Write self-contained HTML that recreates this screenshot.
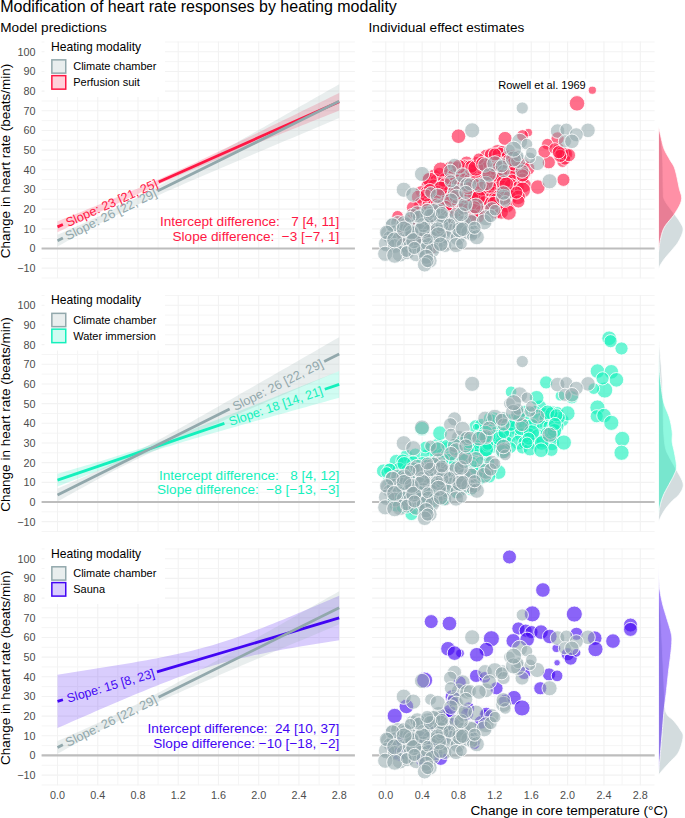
<!DOCTYPE html>
<html><head><meta charset="utf-8"><title>Heart rate by heating modality</title>
<style>html,body{margin:0;padding:0;background:#fff;} svg{display:block;} text{font-family:"Liberation Sans", sans-serif;}</style>
</head><body>
<svg width="685" height="818" viewBox="0 0 685 818" font-family='"Liberation Sans", sans-serif'>
<rect width="685" height="818" fill="#fff"/>
<text x="0.2" y="12.1" font-size="16" fill="#000" text-anchor="start" >Modification of heart rate responses by heating modality</text>
<text x="0.3" y="32" font-size="13.6" fill="#000" text-anchor="start" >Model predictions</text>
<text x="368.6" y="32" font-size="13.55" fill="#000" text-anchor="start" >Individual effect estimates</text>
<line x1="41.6" x2="354.9" y1="278" y2="278" stroke="#f5f5f5" stroke-width="1.0"/>
<line x1="41.6" x2="354.9" y1="268.17" y2="268.17" stroke="#f2f2f2" stroke-width="1.1"/>
<line x1="41.6" x2="354.9" y1="258.33" y2="258.33" stroke="#f5f5f5" stroke-width="1.0"/>
<line x1="41.6" x2="354.9" y1="248.5" y2="248.5" stroke="#f2f2f2" stroke-width="1.1"/>
<line x1="41.6" x2="354.9" y1="238.66" y2="238.66" stroke="#f5f5f5" stroke-width="1.0"/>
<line x1="41.6" x2="354.9" y1="228.83" y2="228.83" stroke="#f2f2f2" stroke-width="1.1"/>
<line x1="41.6" x2="354.9" y1="219" y2="219" stroke="#f5f5f5" stroke-width="1.0"/>
<line x1="41.6" x2="354.9" y1="209.16" y2="209.16" stroke="#f2f2f2" stroke-width="1.1"/>
<line x1="41.6" x2="354.9" y1="199.32" y2="199.32" stroke="#f5f5f5" stroke-width="1.0"/>
<line x1="41.6" x2="354.9" y1="189.49" y2="189.49" stroke="#f2f2f2" stroke-width="1.1"/>
<line x1="41.6" x2="354.9" y1="179.66" y2="179.66" stroke="#f5f5f5" stroke-width="1.0"/>
<line x1="41.6" x2="354.9" y1="169.82" y2="169.82" stroke="#f2f2f2" stroke-width="1.1"/>
<line x1="41.6" x2="354.9" y1="159.99" y2="159.99" stroke="#f5f5f5" stroke-width="1.0"/>
<line x1="41.6" x2="354.9" y1="150.15" y2="150.15" stroke="#f2f2f2" stroke-width="1.1"/>
<line x1="41.6" x2="354.9" y1="140.31" y2="140.31" stroke="#f5f5f5" stroke-width="1.0"/>
<line x1="41.6" x2="354.9" y1="130.48" y2="130.48" stroke="#f2f2f2" stroke-width="1.1"/>
<line x1="41.6" x2="354.9" y1="120.64" y2="120.64" stroke="#f5f5f5" stroke-width="1.0"/>
<line x1="41.6" x2="354.9" y1="110.81" y2="110.81" stroke="#f2f2f2" stroke-width="1.1"/>
<line x1="41.6" x2="354.9" y1="100.97" y2="100.97" stroke="#f5f5f5" stroke-width="1.0"/>
<line x1="41.6" x2="354.9" y1="91.14" y2="91.14" stroke="#f2f2f2" stroke-width="1.1"/>
<line x1="41.6" x2="354.9" y1="81.31" y2="81.31" stroke="#f5f5f5" stroke-width="1.0"/>
<line x1="41.6" x2="354.9" y1="71.47" y2="71.47" stroke="#f2f2f2" stroke-width="1.1"/>
<line x1="41.6" x2="354.9" y1="61.63" y2="61.63" stroke="#f5f5f5" stroke-width="1.0"/>
<line x1="41.6" x2="354.9" y1="51.8" y2="51.8" stroke="#f2f2f2" stroke-width="1.1"/>
<line x1="41.6" x2="354.9" y1="41.97" y2="41.97" stroke="#f5f5f5" stroke-width="1.0"/>
<line x1="57.5" x2="57.5" y1="41.57" y2="278.2" stroke="#f2f2f2" stroke-width="1.1"/>
<line x1="77.62" x2="77.62" y1="41.57" y2="278.2" stroke="#f5f5f5" stroke-width="1.0"/>
<line x1="97.74" x2="97.74" y1="41.57" y2="278.2" stroke="#f2f2f2" stroke-width="1.1"/>
<line x1="117.86" x2="117.86" y1="41.57" y2="278.2" stroke="#f5f5f5" stroke-width="1.0"/>
<line x1="137.98" x2="137.98" y1="41.57" y2="278.2" stroke="#f2f2f2" stroke-width="1.1"/>
<line x1="158.1" x2="158.1" y1="41.57" y2="278.2" stroke="#f5f5f5" stroke-width="1.0"/>
<line x1="178.22" x2="178.22" y1="41.57" y2="278.2" stroke="#f2f2f2" stroke-width="1.1"/>
<line x1="198.34" x2="198.34" y1="41.57" y2="278.2" stroke="#f5f5f5" stroke-width="1.0"/>
<line x1="218.46" x2="218.46" y1="41.57" y2="278.2" stroke="#f2f2f2" stroke-width="1.1"/>
<line x1="238.58" x2="238.58" y1="41.57" y2="278.2" stroke="#f5f5f5" stroke-width="1.0"/>
<line x1="258.7" x2="258.7" y1="41.57" y2="278.2" stroke="#f2f2f2" stroke-width="1.1"/>
<line x1="278.82" x2="278.82" y1="41.57" y2="278.2" stroke="#f5f5f5" stroke-width="1.0"/>
<line x1="298.94" x2="298.94" y1="41.57" y2="278.2" stroke="#f2f2f2" stroke-width="1.1"/>
<line x1="319.06" x2="319.06" y1="41.57" y2="278.2" stroke="#f5f5f5" stroke-width="1.0"/>
<line x1="339.18" x2="339.18" y1="41.57" y2="278.2" stroke="#f2f2f2" stroke-width="1.1"/>
<line x1="372.1" x2="654.6" y1="278" y2="278" stroke="#f5f5f5" stroke-width="1.0"/>
<line x1="372.1" x2="654.6" y1="268.17" y2="268.17" stroke="#f2f2f2" stroke-width="1.1"/>
<line x1="372.1" x2="654.6" y1="258.33" y2="258.33" stroke="#f5f5f5" stroke-width="1.0"/>
<line x1="372.1" x2="654.6" y1="248.5" y2="248.5" stroke="#f2f2f2" stroke-width="1.1"/>
<line x1="372.1" x2="654.6" y1="238.66" y2="238.66" stroke="#f5f5f5" stroke-width="1.0"/>
<line x1="372.1" x2="654.6" y1="228.83" y2="228.83" stroke="#f2f2f2" stroke-width="1.1"/>
<line x1="372.1" x2="654.6" y1="219" y2="219" stroke="#f5f5f5" stroke-width="1.0"/>
<line x1="372.1" x2="654.6" y1="209.16" y2="209.16" stroke="#f2f2f2" stroke-width="1.1"/>
<line x1="372.1" x2="654.6" y1="199.32" y2="199.32" stroke="#f5f5f5" stroke-width="1.0"/>
<line x1="372.1" x2="654.6" y1="189.49" y2="189.49" stroke="#f2f2f2" stroke-width="1.1"/>
<line x1="372.1" x2="654.6" y1="179.66" y2="179.66" stroke="#f5f5f5" stroke-width="1.0"/>
<line x1="372.1" x2="654.6" y1="169.82" y2="169.82" stroke="#f2f2f2" stroke-width="1.1"/>
<line x1="372.1" x2="654.6" y1="159.99" y2="159.99" stroke="#f5f5f5" stroke-width="1.0"/>
<line x1="372.1" x2="654.6" y1="150.15" y2="150.15" stroke="#f2f2f2" stroke-width="1.1"/>
<line x1="372.1" x2="654.6" y1="140.31" y2="140.31" stroke="#f5f5f5" stroke-width="1.0"/>
<line x1="372.1" x2="654.6" y1="130.48" y2="130.48" stroke="#f2f2f2" stroke-width="1.1"/>
<line x1="372.1" x2="654.6" y1="120.64" y2="120.64" stroke="#f5f5f5" stroke-width="1.0"/>
<line x1="372.1" x2="654.6" y1="110.81" y2="110.81" stroke="#f2f2f2" stroke-width="1.1"/>
<line x1="372.1" x2="654.6" y1="100.97" y2="100.97" stroke="#f5f5f5" stroke-width="1.0"/>
<line x1="372.1" x2="654.6" y1="91.14" y2="91.14" stroke="#f2f2f2" stroke-width="1.1"/>
<line x1="372.1" x2="654.6" y1="81.31" y2="81.31" stroke="#f5f5f5" stroke-width="1.0"/>
<line x1="372.1" x2="654.6" y1="71.47" y2="71.47" stroke="#f2f2f2" stroke-width="1.1"/>
<line x1="372.1" x2="654.6" y1="61.63" y2="61.63" stroke="#f5f5f5" stroke-width="1.0"/>
<line x1="372.1" x2="654.6" y1="51.8" y2="51.8" stroke="#f2f2f2" stroke-width="1.1"/>
<line x1="372.1" x2="654.6" y1="41.97" y2="41.97" stroke="#f5f5f5" stroke-width="1.0"/>
<line x1="385.8" x2="385.8" y1="41.57" y2="278.2" stroke="#f2f2f2" stroke-width="1.1"/>
<line x1="403.98" x2="403.98" y1="41.57" y2="278.2" stroke="#f5f5f5" stroke-width="1.0"/>
<line x1="422.16" x2="422.16" y1="41.57" y2="278.2" stroke="#f2f2f2" stroke-width="1.1"/>
<line x1="440.34" x2="440.34" y1="41.57" y2="278.2" stroke="#f5f5f5" stroke-width="1.0"/>
<line x1="458.52" x2="458.52" y1="41.57" y2="278.2" stroke="#f2f2f2" stroke-width="1.1"/>
<line x1="476.7" x2="476.7" y1="41.57" y2="278.2" stroke="#f5f5f5" stroke-width="1.0"/>
<line x1="494.88" x2="494.88" y1="41.57" y2="278.2" stroke="#f2f2f2" stroke-width="1.1"/>
<line x1="513.06" x2="513.06" y1="41.57" y2="278.2" stroke="#f5f5f5" stroke-width="1.0"/>
<line x1="531.24" x2="531.24" y1="41.57" y2="278.2" stroke="#f2f2f2" stroke-width="1.1"/>
<line x1="549.42" x2="549.42" y1="41.57" y2="278.2" stroke="#f5f5f5" stroke-width="1.0"/>
<line x1="567.6" x2="567.6" y1="41.57" y2="278.2" stroke="#f2f2f2" stroke-width="1.1"/>
<line x1="585.78" x2="585.78" y1="41.57" y2="278.2" stroke="#f5f5f5" stroke-width="1.0"/>
<line x1="603.96" x2="603.96" y1="41.57" y2="278.2" stroke="#f2f2f2" stroke-width="1.1"/>
<line x1="622.14" x2="622.14" y1="41.57" y2="278.2" stroke="#f5f5f5" stroke-width="1.0"/>
<line x1="640.32" x2="640.32" y1="41.57" y2="278.2" stroke="#f2f2f2" stroke-width="1.1"/>
<line x1="41.6" x2="354.9" y1="248.5" y2="248.5" stroke="#bdbdbd" stroke-width="2.2"/>
<line x1="372.1" x2="654.6" y1="248.5" y2="248.5" stroke="#bdbdbd" stroke-width="2.2"/>
<text x="35.6" y="272.12" font-size="10.8" fill="#4d4d4d" text-anchor="end">−10</text>
<text x="35.6" y="252.45" font-size="10.8" fill="#4d4d4d" text-anchor="end">0</text>
<text x="35.6" y="232.78" font-size="10.8" fill="#4d4d4d" text-anchor="end">10</text>
<text x="35.6" y="213.11" font-size="10.8" fill="#4d4d4d" text-anchor="end">20</text>
<text x="35.6" y="193.44" font-size="10.8" fill="#4d4d4d" text-anchor="end">30</text>
<text x="35.6" y="173.77" font-size="10.8" fill="#4d4d4d" text-anchor="end">40</text>
<text x="35.6" y="154.1" font-size="10.8" fill="#4d4d4d" text-anchor="end">50</text>
<text x="35.6" y="134.43" font-size="10.8" fill="#4d4d4d" text-anchor="end">60</text>
<text x="35.6" y="114.76" font-size="10.8" fill="#4d4d4d" text-anchor="end">70</text>
<text x="35.6" y="95.09" font-size="10.8" fill="#4d4d4d" text-anchor="end">80</text>
<text x="35.6" y="75.42" font-size="10.8" fill="#4d4d4d" text-anchor="end">90</text>
<text x="35.6" y="55.75" font-size="10.8" fill="#4d4d4d" text-anchor="end">100</text>
<text transform="translate(10.3,160.99) rotate(-90)" font-size="13.5" text-anchor="middle" fill="#000">Change in heart rate (beats/min)</text>
<path d="M57.5,221.36 L62.19,219.47 L66.89,217.57 L71.58,215.68 L76.28,213.78 L80.97,211.88 L85.67,209.98 L90.36,208.07 L95.06,206.16 L99.75,204.24 L104.45,202.32 L109.14,200.39 L113.84,198.45 L118.53,196.51 L123.23,194.56 L127.92,192.59 L132.61,190.62 L137.31,188.63 L142,186.62 L146.7,184.6 L151.39,182.57 L156.09,180.51 L160.78,178.44 L165.48,176.35 L170.17,174.24 L174.87,172.11 L179.56,169.96 L184.26,167.79 L188.95,165.62 L193.65,163.42 L198.34,161.22 L203.03,159 L207.73,156.78 L212.42,154.55 L217.12,152.31 L221.81,150.06 L226.51,147.81 L231.2,145.55 L235.9,143.29 L240.59,141.02 L245.29,138.75 L249.98,136.48 L254.68,134.21 L259.37,131.93 L264.07,129.65 L268.76,127.37 L273.45,125.09 L278.15,122.8 L282.84,120.52 L287.54,118.23 L292.23,115.94 L296.93,113.65 L301.62,111.36 L306.32,109.07 L311.01,106.78 L315.71,104.48 L320.4,102.19 L325.1,99.9 L329.79,97.6 L334.49,95.3 L339.18,93.01 L339.18,110.51 L334.49,112.39 L329.79,114.26 L325.1,116.14 L320.4,118.01 L315.71,119.89 L311.01,121.77 L306.32,123.65 L301.62,125.52 L296.93,127.4 L292.23,129.28 L287.54,131.17 L282.84,133.05 L278.15,134.93 L273.45,136.82 L268.76,138.7 L264.07,140.59 L259.37,142.48 L254.68,144.38 L249.98,146.27 L245.29,148.17 L240.59,150.07 L235.9,151.98 L231.2,153.88 L226.51,155.8 L221.81,157.71 L217.12,159.64 L212.42,161.57 L207.73,163.5 L203.03,165.45 L198.34,167.41 L193.65,169.37 L188.95,171.35 L184.26,173.34 L179.56,175.35 L174.87,177.37 L170.17,179.41 L165.48,181.47 L160.78,183.55 L156.09,185.64 L151.39,187.76 L146.7,189.89 L142,192.04 L137.31,194.21 L132.61,196.39 L127.92,198.58 L123.23,200.79 L118.53,203.01 L113.84,205.23 L109.14,207.47 L104.45,209.71 L99.75,211.96 L95.06,214.21 L90.36,216.47 L85.67,218.73 L80.97,221 L76.28,223.27 L71.58,225.54 L66.89,227.81 L62.19,230.09 L57.5,232.37Z" fill="rgba(255,23,68,0.2)"/>
<path d="M57.5,234.73 L62.19,232.69 L66.89,230.64 L71.58,228.57 L76.28,226.5 L80.97,224.41 L85.67,222.31 L90.36,220.19 L95.06,218.05 L99.75,215.88 L104.45,213.68 L109.14,211.46 L113.84,209.2 L118.53,206.91 L123.23,204.58 L127.92,202.21 L132.61,199.81 L137.31,197.38 L142,194.92 L146.7,192.43 L151.39,189.92 L156.09,187.39 L160.78,184.84 L165.48,182.28 L170.17,179.7 L174.87,177.11 L179.56,174.51 L184.26,171.9 L188.95,169.29 L193.65,166.66 L198.34,164.04 L203.03,161.41 L207.73,158.77 L212.42,156.13 L217.12,153.49 L221.81,150.84 L226.51,148.19 L231.2,145.54 L235.9,142.89 L240.59,140.23 L245.29,137.58 L249.98,134.92 L254.68,132.26 L259.37,129.6 L264.07,126.94 L268.76,124.28 L273.45,121.61 L278.15,118.95 L282.84,116.28 L287.54,113.62 L292.23,110.95 L296.93,108.28 L301.62,105.62 L306.32,102.95 L311.01,100.28 L315.71,97.61 L320.4,94.94 L325.1,92.27 L329.79,89.6 L334.49,86.93 L339.18,84.26 L339.18,118.09 L334.49,120.07 L329.79,122.04 L325.1,124.02 L320.4,126 L315.71,127.98 L311.01,129.96 L306.32,131.94 L301.62,133.92 L296.93,135.9 L292.23,137.88 L287.54,139.86 L282.84,141.84 L278.15,143.83 L273.45,145.81 L268.76,147.8 L264.07,149.78 L259.37,151.77 L254.68,153.76 L249.98,155.75 L245.29,157.74 L240.59,159.73 L235.9,161.72 L231.2,163.72 L226.51,165.72 L221.81,167.72 L217.12,169.72 L212.42,171.73 L207.73,173.74 L203.03,175.75 L198.34,177.77 L193.65,179.79 L188.95,181.82 L184.26,183.85 L179.56,185.89 L174.87,187.94 L170.17,190 L165.48,192.07 L160.78,194.15 L156.09,196.25 L151.39,198.37 L146.7,200.5 L142,202.67 L137.31,204.85 L132.61,207.07 L127.92,209.32 L123.23,211.6 L118.53,213.92 L113.84,216.28 L109.14,218.67 L104.45,221.09 L99.75,223.55 L95.06,226.03 L90.36,228.53 L85.67,231.06 L80.97,233.61 L76.28,236.17 L71.58,238.74 L66.89,241.33 L62.19,243.93 L57.5,246.53Z" fill="rgba(146,168,172,0.2)"/>
<line x1="57.5" y1="226.86" x2="62.9" y2="224.46" stroke="#FF1744" stroke-width="2.8" stroke-linecap="butt"/>
<line x1="158.7" y1="181.92" x2="339.18" y2="101.76" stroke="#FF1744" stroke-width="2.8" stroke-linecap="butt"/>
<text transform="translate(111.6,202.84) rotate(-23.95)" font-size="12.5" fill="#FF1744" text-anchor="middle" dy="4.4" textLength="99.02" lengthAdjust="spacingAndGlyphs">Slope: 23 [21, 25]</text>
<line x1="57.5" y1="240.63" x2="62.9" y2="237.96" stroke="#92A8AC" stroke-width="2.8" stroke-linecap="butt"/>
<line x1="157.5" y1="191.12" x2="339.18" y2="101.17" stroke="#92A8AC" stroke-width="2.8" stroke-linecap="butt"/>
<text transform="translate(110.8,214.24) rotate(-26.34)" font-size="12.5" fill="#92A8AC" text-anchor="middle" dy="4.4" textLength="100.29" lengthAdjust="spacingAndGlyphs">Slope: 26 [22, 29]</text>
<text x="339.3" y="226.3" font-size="13.6" fill="#FF1744" text-anchor="end" xml:space="preserve">Intercept difference:   7 [4, 11]</text>
<text x="339.3" y="240.9" font-size="13.6" fill="#FF1744" text-anchor="end" xml:space="preserve">Slope difference:  −3 [−7, 1]</text>
<rect x="44.5" y="38" width="120.5" height="59" fill="#fff"/>
<text x="51" y="50.8" font-size="12.1" fill="#000" text-anchor="start" >Heating modality</text>
<rect x="51.85" y="59.85" width="13.9" height="13.3" fill="rgba(146,168,172,0.2)" stroke="#92A8AC" stroke-width="1.5"/>
<rect x="51.85" y="75.65" width="13.9" height="13.5" fill="rgba(255,23,68,0.2)" stroke="#FF1744" stroke-width="1.5"/>
<text x="73.2" y="70.4" font-size="11" fill="#000" text-anchor="start" >Climate chamber</text>
<text x="73.2" y="86.2" font-size="11" fill="#000" text-anchor="start" >Perfusion suit</text>
<line x1="41.6" x2="354.9" y1="531.5" y2="531.5" stroke="#f5f5f5" stroke-width="1.0"/>
<line x1="41.6" x2="354.9" y1="521.67" y2="521.67" stroke="#f2f2f2" stroke-width="1.1"/>
<line x1="41.6" x2="354.9" y1="511.83" y2="511.83" stroke="#f5f5f5" stroke-width="1.0"/>
<line x1="41.6" x2="354.9" y1="502" y2="502" stroke="#f2f2f2" stroke-width="1.1"/>
<line x1="41.6" x2="354.9" y1="492.17" y2="492.17" stroke="#f5f5f5" stroke-width="1.0"/>
<line x1="41.6" x2="354.9" y1="482.33" y2="482.33" stroke="#f2f2f2" stroke-width="1.1"/>
<line x1="41.6" x2="354.9" y1="472.5" y2="472.5" stroke="#f5f5f5" stroke-width="1.0"/>
<line x1="41.6" x2="354.9" y1="462.66" y2="462.66" stroke="#f2f2f2" stroke-width="1.1"/>
<line x1="41.6" x2="354.9" y1="452.82" y2="452.82" stroke="#f5f5f5" stroke-width="1.0"/>
<line x1="41.6" x2="354.9" y1="442.99" y2="442.99" stroke="#f2f2f2" stroke-width="1.1"/>
<line x1="41.6" x2="354.9" y1="433.15" y2="433.15" stroke="#f5f5f5" stroke-width="1.0"/>
<line x1="41.6" x2="354.9" y1="423.32" y2="423.32" stroke="#f2f2f2" stroke-width="1.1"/>
<line x1="41.6" x2="354.9" y1="413.49" y2="413.49" stroke="#f5f5f5" stroke-width="1.0"/>
<line x1="41.6" x2="354.9" y1="403.65" y2="403.65" stroke="#f2f2f2" stroke-width="1.1"/>
<line x1="41.6" x2="354.9" y1="393.81" y2="393.81" stroke="#f5f5f5" stroke-width="1.0"/>
<line x1="41.6" x2="354.9" y1="383.98" y2="383.98" stroke="#f2f2f2" stroke-width="1.1"/>
<line x1="41.6" x2="354.9" y1="374.14" y2="374.14" stroke="#f5f5f5" stroke-width="1.0"/>
<line x1="41.6" x2="354.9" y1="364.31" y2="364.31" stroke="#f2f2f2" stroke-width="1.1"/>
<line x1="41.6" x2="354.9" y1="354.48" y2="354.48" stroke="#f5f5f5" stroke-width="1.0"/>
<line x1="41.6" x2="354.9" y1="344.64" y2="344.64" stroke="#f2f2f2" stroke-width="1.1"/>
<line x1="41.6" x2="354.9" y1="334.81" y2="334.81" stroke="#f5f5f5" stroke-width="1.0"/>
<line x1="41.6" x2="354.9" y1="324.97" y2="324.97" stroke="#f2f2f2" stroke-width="1.1"/>
<line x1="41.6" x2="354.9" y1="315.13" y2="315.13" stroke="#f5f5f5" stroke-width="1.0"/>
<line x1="41.6" x2="354.9" y1="305.3" y2="305.3" stroke="#f2f2f2" stroke-width="1.1"/>
<line x1="41.6" x2="354.9" y1="295.47" y2="295.47" stroke="#f5f5f5" stroke-width="1.0"/>
<line x1="57.5" x2="57.5" y1="295.07" y2="531.7" stroke="#f2f2f2" stroke-width="1.1"/>
<line x1="77.62" x2="77.62" y1="295.07" y2="531.7" stroke="#f5f5f5" stroke-width="1.0"/>
<line x1="97.74" x2="97.74" y1="295.07" y2="531.7" stroke="#f2f2f2" stroke-width="1.1"/>
<line x1="117.86" x2="117.86" y1="295.07" y2="531.7" stroke="#f5f5f5" stroke-width="1.0"/>
<line x1="137.98" x2="137.98" y1="295.07" y2="531.7" stroke="#f2f2f2" stroke-width="1.1"/>
<line x1="158.1" x2="158.1" y1="295.07" y2="531.7" stroke="#f5f5f5" stroke-width="1.0"/>
<line x1="178.22" x2="178.22" y1="295.07" y2="531.7" stroke="#f2f2f2" stroke-width="1.1"/>
<line x1="198.34" x2="198.34" y1="295.07" y2="531.7" stroke="#f5f5f5" stroke-width="1.0"/>
<line x1="218.46" x2="218.46" y1="295.07" y2="531.7" stroke="#f2f2f2" stroke-width="1.1"/>
<line x1="238.58" x2="238.58" y1="295.07" y2="531.7" stroke="#f5f5f5" stroke-width="1.0"/>
<line x1="258.7" x2="258.7" y1="295.07" y2="531.7" stroke="#f2f2f2" stroke-width="1.1"/>
<line x1="278.82" x2="278.82" y1="295.07" y2="531.7" stroke="#f5f5f5" stroke-width="1.0"/>
<line x1="298.94" x2="298.94" y1="295.07" y2="531.7" stroke="#f2f2f2" stroke-width="1.1"/>
<line x1="319.06" x2="319.06" y1="295.07" y2="531.7" stroke="#f5f5f5" stroke-width="1.0"/>
<line x1="339.18" x2="339.18" y1="295.07" y2="531.7" stroke="#f2f2f2" stroke-width="1.1"/>
<line x1="372.1" x2="654.6" y1="531.5" y2="531.5" stroke="#f5f5f5" stroke-width="1.0"/>
<line x1="372.1" x2="654.6" y1="521.67" y2="521.67" stroke="#f2f2f2" stroke-width="1.1"/>
<line x1="372.1" x2="654.6" y1="511.83" y2="511.83" stroke="#f5f5f5" stroke-width="1.0"/>
<line x1="372.1" x2="654.6" y1="502" y2="502" stroke="#f2f2f2" stroke-width="1.1"/>
<line x1="372.1" x2="654.6" y1="492.17" y2="492.17" stroke="#f5f5f5" stroke-width="1.0"/>
<line x1="372.1" x2="654.6" y1="482.33" y2="482.33" stroke="#f2f2f2" stroke-width="1.1"/>
<line x1="372.1" x2="654.6" y1="472.5" y2="472.5" stroke="#f5f5f5" stroke-width="1.0"/>
<line x1="372.1" x2="654.6" y1="462.66" y2="462.66" stroke="#f2f2f2" stroke-width="1.1"/>
<line x1="372.1" x2="654.6" y1="452.82" y2="452.82" stroke="#f5f5f5" stroke-width="1.0"/>
<line x1="372.1" x2="654.6" y1="442.99" y2="442.99" stroke="#f2f2f2" stroke-width="1.1"/>
<line x1="372.1" x2="654.6" y1="433.15" y2="433.15" stroke="#f5f5f5" stroke-width="1.0"/>
<line x1="372.1" x2="654.6" y1="423.32" y2="423.32" stroke="#f2f2f2" stroke-width="1.1"/>
<line x1="372.1" x2="654.6" y1="413.49" y2="413.49" stroke="#f5f5f5" stroke-width="1.0"/>
<line x1="372.1" x2="654.6" y1="403.65" y2="403.65" stroke="#f2f2f2" stroke-width="1.1"/>
<line x1="372.1" x2="654.6" y1="393.81" y2="393.81" stroke="#f5f5f5" stroke-width="1.0"/>
<line x1="372.1" x2="654.6" y1="383.98" y2="383.98" stroke="#f2f2f2" stroke-width="1.1"/>
<line x1="372.1" x2="654.6" y1="374.14" y2="374.14" stroke="#f5f5f5" stroke-width="1.0"/>
<line x1="372.1" x2="654.6" y1="364.31" y2="364.31" stroke="#f2f2f2" stroke-width="1.1"/>
<line x1="372.1" x2="654.6" y1="354.48" y2="354.48" stroke="#f5f5f5" stroke-width="1.0"/>
<line x1="372.1" x2="654.6" y1="344.64" y2="344.64" stroke="#f2f2f2" stroke-width="1.1"/>
<line x1="372.1" x2="654.6" y1="334.81" y2="334.81" stroke="#f5f5f5" stroke-width="1.0"/>
<line x1="372.1" x2="654.6" y1="324.97" y2="324.97" stroke="#f2f2f2" stroke-width="1.1"/>
<line x1="372.1" x2="654.6" y1="315.13" y2="315.13" stroke="#f5f5f5" stroke-width="1.0"/>
<line x1="372.1" x2="654.6" y1="305.3" y2="305.3" stroke="#f2f2f2" stroke-width="1.1"/>
<line x1="372.1" x2="654.6" y1="295.47" y2="295.47" stroke="#f5f5f5" stroke-width="1.0"/>
<line x1="385.8" x2="385.8" y1="295.07" y2="531.7" stroke="#f2f2f2" stroke-width="1.1"/>
<line x1="403.98" x2="403.98" y1="295.07" y2="531.7" stroke="#f5f5f5" stroke-width="1.0"/>
<line x1="422.16" x2="422.16" y1="295.07" y2="531.7" stroke="#f2f2f2" stroke-width="1.1"/>
<line x1="440.34" x2="440.34" y1="295.07" y2="531.7" stroke="#f5f5f5" stroke-width="1.0"/>
<line x1="458.52" x2="458.52" y1="295.07" y2="531.7" stroke="#f2f2f2" stroke-width="1.1"/>
<line x1="476.7" x2="476.7" y1="295.07" y2="531.7" stroke="#f5f5f5" stroke-width="1.0"/>
<line x1="494.88" x2="494.88" y1="295.07" y2="531.7" stroke="#f2f2f2" stroke-width="1.1"/>
<line x1="513.06" x2="513.06" y1="295.07" y2="531.7" stroke="#f5f5f5" stroke-width="1.0"/>
<line x1="531.24" x2="531.24" y1="295.07" y2="531.7" stroke="#f2f2f2" stroke-width="1.1"/>
<line x1="549.42" x2="549.42" y1="295.07" y2="531.7" stroke="#f5f5f5" stroke-width="1.0"/>
<line x1="567.6" x2="567.6" y1="295.07" y2="531.7" stroke="#f2f2f2" stroke-width="1.1"/>
<line x1="585.78" x2="585.78" y1="295.07" y2="531.7" stroke="#f5f5f5" stroke-width="1.0"/>
<line x1="603.96" x2="603.96" y1="295.07" y2="531.7" stroke="#f2f2f2" stroke-width="1.1"/>
<line x1="622.14" x2="622.14" y1="295.07" y2="531.7" stroke="#f5f5f5" stroke-width="1.0"/>
<line x1="640.32" x2="640.32" y1="295.07" y2="531.7" stroke="#f2f2f2" stroke-width="1.1"/>
<line x1="41.6" x2="354.9" y1="502" y2="502" stroke="#bdbdbd" stroke-width="2.2"/>
<line x1="372.1" x2="654.6" y1="502" y2="502" stroke="#bdbdbd" stroke-width="2.2"/>
<text x="35.6" y="525.62" font-size="10.8" fill="#4d4d4d" text-anchor="end">−10</text>
<text x="35.6" y="505.95" font-size="10.8" fill="#4d4d4d" text-anchor="end">0</text>
<text x="35.6" y="486.28" font-size="10.8" fill="#4d4d4d" text-anchor="end">10</text>
<text x="35.6" y="466.61" font-size="10.8" fill="#4d4d4d" text-anchor="end">20</text>
<text x="35.6" y="446.94" font-size="10.8" fill="#4d4d4d" text-anchor="end">30</text>
<text x="35.6" y="427.27" font-size="10.8" fill="#4d4d4d" text-anchor="end">40</text>
<text x="35.6" y="407.6" font-size="10.8" fill="#4d4d4d" text-anchor="end">50</text>
<text x="35.6" y="387.93" font-size="10.8" fill="#4d4d4d" text-anchor="end">60</text>
<text x="35.6" y="368.26" font-size="10.8" fill="#4d4d4d" text-anchor="end">70</text>
<text x="35.6" y="348.59" font-size="10.8" fill="#4d4d4d" text-anchor="end">80</text>
<text x="35.6" y="328.92" font-size="10.8" fill="#4d4d4d" text-anchor="end">90</text>
<text x="35.6" y="309.25" font-size="10.8" fill="#4d4d4d" text-anchor="end">100</text>
<text transform="translate(10.3,414.49) rotate(-90)" font-size="13.5" text-anchor="middle" fill="#000">Change in heart rate (beats/min)</text>
<path d="M57.5,473.77 L62.19,472.43 L66.89,471.08 L71.58,469.72 L76.28,468.36 L80.97,466.99 L85.67,465.61 L90.36,464.22 L95.06,462.82 L99.75,461.41 L104.45,459.98 L109.14,458.54 L113.84,457.09 L118.53,455.61 L123.23,454.11 L127.92,452.59 L132.61,451.05 L137.31,449.48 L142,447.88 L146.7,446.26 L151.39,444.61 L156.09,442.94 L160.78,441.25 L165.48,439.53 L170.17,437.8 L174.87,436.04 L179.56,434.28 L184.26,432.49 L188.95,430.7 L193.65,428.9 L198.34,427.08 L203.03,425.26 L207.73,423.43 L212.42,421.59 L217.12,419.75 L221.81,417.91 L226.51,416.05 L231.2,414.2 L235.9,412.34 L240.59,410.48 L245.29,408.61 L249.98,406.75 L254.68,404.88 L259.37,403.01 L264.07,401.13 L268.76,399.26 L273.45,397.38 L278.15,395.5 L282.84,393.62 L287.54,391.74 L292.23,389.86 L296.93,387.98 L301.62,386.09 L306.32,384.21 L311.01,382.32 L315.71,380.44 L320.4,378.55 L325.1,376.66 L329.79,374.78 L334.49,372.89 L339.18,371 L339.18,397.75 L334.49,399.05 L329.79,400.36 L325.1,401.66 L320.4,402.97 L315.71,404.27 L311.01,405.58 L306.32,406.89 L301.62,408.2 L296.93,409.51 L292.23,410.82 L287.54,412.13 L282.84,413.44 L278.15,414.75 L273.45,416.07 L268.76,417.39 L264.07,418.7 L259.37,420.02 L254.68,421.35 L249.98,422.67 L245.29,423.99 L240.59,425.32 L235.9,426.65 L231.2,427.99 L226.51,429.33 L221.81,430.67 L217.12,432.01 L212.42,433.37 L207.73,434.72 L203.03,436.09 L198.34,437.46 L193.65,438.84 L188.95,440.23 L184.26,441.62 L179.56,443.04 L174.87,444.46 L170.17,445.9 L165.48,447.36 L160.78,448.84 L156.09,450.34 L151.39,451.86 L146.7,453.4 L142,454.98 L137.31,456.57 L132.61,458.2 L127.92,459.84 L123.23,461.52 L118.53,463.21 L113.84,464.93 L109.14,466.66 L104.45,468.42 L99.75,470.19 L95.06,471.97 L90.36,473.76 L85.67,475.57 L80.97,477.38 L76.28,479.2 L71.58,481.03 L66.89,482.87 L62.19,484.71 L57.5,486.56Z" fill="rgba(20,240,188,0.2)"/>
<path d="M57.5,488.62 L62.19,486.57 L66.89,484.5 L71.58,482.42 L76.28,480.34 L80.97,478.24 L85.67,476.13 L90.36,474 L95.06,471.85 L99.75,469.68 L104.45,467.49 L109.14,465.27 L113.84,463.02 L118.53,460.74 L123.23,458.43 L127.92,456.08 L132.61,453.7 L137.31,451.28 L142,448.83 L146.7,446.35 L151.39,443.84 L156.09,441.31 L160.78,438.76 L165.48,436.19 L170.17,433.6 L174.87,431 L179.56,428.39 L184.26,425.76 L188.95,423.13 L193.65,420.49 L198.34,417.84 L203.03,415.19 L207.73,412.53 L212.42,409.86 L217.12,407.19 L221.81,404.52 L226.51,401.85 L231.2,399.17 L235.9,396.49 L240.59,393.8 L245.29,391.12 L249.98,388.43 L254.68,385.74 L259.37,383.05 L264.07,380.36 L268.76,377.67 L273.45,374.97 L278.15,372.28 L282.84,369.58 L287.54,366.88 L292.23,364.18 L296.93,361.48 L301.62,358.78 L306.32,356.08 L311.01,353.38 L315.71,350.68 L320.4,347.98 L325.1,345.28 L329.79,342.57 L334.49,339.87 L339.18,337.17 L339.18,371 L334.49,372.99 L329.79,374.99 L325.1,376.99 L320.4,378.99 L315.71,380.99 L311.01,382.99 L306.32,384.99 L301.62,386.99 L296.93,388.99 L292.23,390.99 L287.54,392.99 L282.84,395 L278.15,397 L273.45,399.01 L268.76,401.01 L264.07,403.02 L259.37,405.03 L254.68,407.04 L249.98,409.05 L245.29,411.07 L240.59,413.08 L235.9,415.1 L231.2,417.12 L226.51,419.14 L221.81,421.17 L217.12,423.2 L212.42,425.23 L207.73,427.27 L203.03,429.31 L198.34,431.36 L193.65,433.41 L188.95,435.47 L184.26,437.54 L179.56,439.61 L174.87,441.7 L170.17,443.8 L165.48,445.91 L160.78,448.04 L156.09,450.19 L151.39,452.36 L146.7,454.56 L142,456.78 L137.31,459.03 L132.61,461.32 L127.92,463.63 L123.23,465.99 L118.53,468.37 L113.84,470.8 L109.14,473.25 L104.45,475.73 L99.75,478.24 L95.06,480.77 L90.36,483.33 L85.67,485.9 L80.97,488.49 L76.28,491.09 L71.58,493.7 L66.89,496.33 L62.19,498.96 L57.5,501.61Z" fill="rgba(146,168,172,0.2)"/>
<line x1="57.5" y1="480.17" x2="224.4" y2="423.41" stroke="#14F0BC" stroke-width="2.8" stroke-linecap="butt"/>
<line x1="324.8" y1="389.26" x2="339.18" y2="384.37" stroke="#14F0BC" stroke-width="2.8" stroke-linecap="butt"/>
<text transform="translate(275.6,406) rotate(-18.78)" font-size="12.5" fill="#14F0BC" text-anchor="middle" dy="4.4" textLength="98.37" lengthAdjust="spacingAndGlyphs">Slope: 18 [14, 21]</text>
<line x1="57.5" y1="495.12" x2="229.6" y2="408.95" stroke="#92A8AC" stroke-width="2.8" stroke-linecap="butt"/>
<line x1="324.2" y1="361.58" x2="339.18" y2="354.08" stroke="#92A8AC" stroke-width="2.8" stroke-linecap="butt"/>
<text transform="translate(277.65,384.89) rotate(-26.6)" font-size="12.5" fill="#92A8AC" text-anchor="middle" dy="4.4" textLength="99.5" lengthAdjust="spacingAndGlyphs">Slope: 26 [22, 29]</text>
<text x="339.3" y="479.8" font-size="13.6" fill="#14F0BC" text-anchor="end" xml:space="preserve">Intercept difference:   8 [4, 12]</text>
<text x="339.3" y="494.4" font-size="13.6" fill="#14F0BC" text-anchor="end" xml:space="preserve">Slope difference:  −8 [−13, −3]</text>
<rect x="44.5" y="291.5" width="120.5" height="59" fill="#fff"/>
<text x="51" y="304.3" font-size="12.1" fill="#000" text-anchor="start" >Heating modality</text>
<rect x="51.85" y="313.35" width="13.9" height="13.3" fill="rgba(146,168,172,0.2)" stroke="#92A8AC" stroke-width="1.5"/>
<rect x="51.85" y="329.15" width="13.9" height="13.5" fill="rgba(20,240,188,0.2)" stroke="#14F0BC" stroke-width="1.5"/>
<text x="73.2" y="323.9" font-size="11" fill="#000" text-anchor="start" >Climate chamber</text>
<text x="73.2" y="339.7" font-size="11" fill="#000" text-anchor="start" >Water immersion</text>
<line x1="41.6" x2="354.9" y1="784.96" y2="784.96" stroke="#f5f5f5" stroke-width="1.0"/>
<line x1="41.6" x2="354.9" y1="775.12" y2="775.12" stroke="#f2f2f2" stroke-width="1.1"/>
<line x1="41.6" x2="354.9" y1="765.29" y2="765.29" stroke="#f5f5f5" stroke-width="1.0"/>
<line x1="41.6" x2="354.9" y1="755.45" y2="755.45" stroke="#f2f2f2" stroke-width="1.1"/>
<line x1="41.6" x2="354.9" y1="745.62" y2="745.62" stroke="#f5f5f5" stroke-width="1.0"/>
<line x1="41.6" x2="354.9" y1="735.78" y2="735.78" stroke="#f2f2f2" stroke-width="1.1"/>
<line x1="41.6" x2="354.9" y1="725.95" y2="725.95" stroke="#f5f5f5" stroke-width="1.0"/>
<line x1="41.6" x2="354.9" y1="716.11" y2="716.11" stroke="#f2f2f2" stroke-width="1.1"/>
<line x1="41.6" x2="354.9" y1="706.28" y2="706.28" stroke="#f5f5f5" stroke-width="1.0"/>
<line x1="41.6" x2="354.9" y1="696.44" y2="696.44" stroke="#f2f2f2" stroke-width="1.1"/>
<line x1="41.6" x2="354.9" y1="686.61" y2="686.61" stroke="#f5f5f5" stroke-width="1.0"/>
<line x1="41.6" x2="354.9" y1="676.77" y2="676.77" stroke="#f2f2f2" stroke-width="1.1"/>
<line x1="41.6" x2="354.9" y1="666.94" y2="666.94" stroke="#f5f5f5" stroke-width="1.0"/>
<line x1="41.6" x2="354.9" y1="657.1" y2="657.1" stroke="#f2f2f2" stroke-width="1.1"/>
<line x1="41.6" x2="354.9" y1="647.27" y2="647.27" stroke="#f5f5f5" stroke-width="1.0"/>
<line x1="41.6" x2="354.9" y1="637.43" y2="637.43" stroke="#f2f2f2" stroke-width="1.1"/>
<line x1="41.6" x2="354.9" y1="627.6" y2="627.6" stroke="#f5f5f5" stroke-width="1.0"/>
<line x1="41.6" x2="354.9" y1="617.76" y2="617.76" stroke="#f2f2f2" stroke-width="1.1"/>
<line x1="41.6" x2="354.9" y1="607.93" y2="607.93" stroke="#f5f5f5" stroke-width="1.0"/>
<line x1="41.6" x2="354.9" y1="598.09" y2="598.09" stroke="#f2f2f2" stroke-width="1.1"/>
<line x1="41.6" x2="354.9" y1="588.26" y2="588.26" stroke="#f5f5f5" stroke-width="1.0"/>
<line x1="41.6" x2="354.9" y1="578.42" y2="578.42" stroke="#f2f2f2" stroke-width="1.1"/>
<line x1="41.6" x2="354.9" y1="568.59" y2="568.59" stroke="#f5f5f5" stroke-width="1.0"/>
<line x1="41.6" x2="354.9" y1="558.75" y2="558.75" stroke="#f2f2f2" stroke-width="1.1"/>
<line x1="41.6" x2="354.9" y1="548.92" y2="548.92" stroke="#f5f5f5" stroke-width="1.0"/>
<line x1="57.5" x2="57.5" y1="548.52" y2="785.15" stroke="#f2f2f2" stroke-width="1.1"/>
<line x1="77.62" x2="77.62" y1="548.52" y2="785.15" stroke="#f5f5f5" stroke-width="1.0"/>
<line x1="97.74" x2="97.74" y1="548.52" y2="785.15" stroke="#f2f2f2" stroke-width="1.1"/>
<line x1="117.86" x2="117.86" y1="548.52" y2="785.15" stroke="#f5f5f5" stroke-width="1.0"/>
<line x1="137.98" x2="137.98" y1="548.52" y2="785.15" stroke="#f2f2f2" stroke-width="1.1"/>
<line x1="158.1" x2="158.1" y1="548.52" y2="785.15" stroke="#f5f5f5" stroke-width="1.0"/>
<line x1="178.22" x2="178.22" y1="548.52" y2="785.15" stroke="#f2f2f2" stroke-width="1.1"/>
<line x1="198.34" x2="198.34" y1="548.52" y2="785.15" stroke="#f5f5f5" stroke-width="1.0"/>
<line x1="218.46" x2="218.46" y1="548.52" y2="785.15" stroke="#f2f2f2" stroke-width="1.1"/>
<line x1="238.58" x2="238.58" y1="548.52" y2="785.15" stroke="#f5f5f5" stroke-width="1.0"/>
<line x1="258.7" x2="258.7" y1="548.52" y2="785.15" stroke="#f2f2f2" stroke-width="1.1"/>
<line x1="278.82" x2="278.82" y1="548.52" y2="785.15" stroke="#f5f5f5" stroke-width="1.0"/>
<line x1="298.94" x2="298.94" y1="548.52" y2="785.15" stroke="#f2f2f2" stroke-width="1.1"/>
<line x1="319.06" x2="319.06" y1="548.52" y2="785.15" stroke="#f5f5f5" stroke-width="1.0"/>
<line x1="339.18" x2="339.18" y1="548.52" y2="785.15" stroke="#f2f2f2" stroke-width="1.1"/>
<line x1="372.1" x2="654.6" y1="784.96" y2="784.96" stroke="#f5f5f5" stroke-width="1.0"/>
<line x1="372.1" x2="654.6" y1="775.12" y2="775.12" stroke="#f2f2f2" stroke-width="1.1"/>
<line x1="372.1" x2="654.6" y1="765.29" y2="765.29" stroke="#f5f5f5" stroke-width="1.0"/>
<line x1="372.1" x2="654.6" y1="755.45" y2="755.45" stroke="#f2f2f2" stroke-width="1.1"/>
<line x1="372.1" x2="654.6" y1="745.62" y2="745.62" stroke="#f5f5f5" stroke-width="1.0"/>
<line x1="372.1" x2="654.6" y1="735.78" y2="735.78" stroke="#f2f2f2" stroke-width="1.1"/>
<line x1="372.1" x2="654.6" y1="725.95" y2="725.95" stroke="#f5f5f5" stroke-width="1.0"/>
<line x1="372.1" x2="654.6" y1="716.11" y2="716.11" stroke="#f2f2f2" stroke-width="1.1"/>
<line x1="372.1" x2="654.6" y1="706.28" y2="706.28" stroke="#f5f5f5" stroke-width="1.0"/>
<line x1="372.1" x2="654.6" y1="696.44" y2="696.44" stroke="#f2f2f2" stroke-width="1.1"/>
<line x1="372.1" x2="654.6" y1="686.61" y2="686.61" stroke="#f5f5f5" stroke-width="1.0"/>
<line x1="372.1" x2="654.6" y1="676.77" y2="676.77" stroke="#f2f2f2" stroke-width="1.1"/>
<line x1="372.1" x2="654.6" y1="666.94" y2="666.94" stroke="#f5f5f5" stroke-width="1.0"/>
<line x1="372.1" x2="654.6" y1="657.1" y2="657.1" stroke="#f2f2f2" stroke-width="1.1"/>
<line x1="372.1" x2="654.6" y1="647.27" y2="647.27" stroke="#f5f5f5" stroke-width="1.0"/>
<line x1="372.1" x2="654.6" y1="637.43" y2="637.43" stroke="#f2f2f2" stroke-width="1.1"/>
<line x1="372.1" x2="654.6" y1="627.6" y2="627.6" stroke="#f5f5f5" stroke-width="1.0"/>
<line x1="372.1" x2="654.6" y1="617.76" y2="617.76" stroke="#f2f2f2" stroke-width="1.1"/>
<line x1="372.1" x2="654.6" y1="607.93" y2="607.93" stroke="#f5f5f5" stroke-width="1.0"/>
<line x1="372.1" x2="654.6" y1="598.09" y2="598.09" stroke="#f2f2f2" stroke-width="1.1"/>
<line x1="372.1" x2="654.6" y1="588.26" y2="588.26" stroke="#f5f5f5" stroke-width="1.0"/>
<line x1="372.1" x2="654.6" y1="578.42" y2="578.42" stroke="#f2f2f2" stroke-width="1.1"/>
<line x1="372.1" x2="654.6" y1="568.59" y2="568.59" stroke="#f5f5f5" stroke-width="1.0"/>
<line x1="372.1" x2="654.6" y1="558.75" y2="558.75" stroke="#f2f2f2" stroke-width="1.1"/>
<line x1="372.1" x2="654.6" y1="548.92" y2="548.92" stroke="#f5f5f5" stroke-width="1.0"/>
<line x1="385.8" x2="385.8" y1="548.52" y2="785.15" stroke="#f2f2f2" stroke-width="1.1"/>
<line x1="403.98" x2="403.98" y1="548.52" y2="785.15" stroke="#f5f5f5" stroke-width="1.0"/>
<line x1="422.16" x2="422.16" y1="548.52" y2="785.15" stroke="#f2f2f2" stroke-width="1.1"/>
<line x1="440.34" x2="440.34" y1="548.52" y2="785.15" stroke="#f5f5f5" stroke-width="1.0"/>
<line x1="458.52" x2="458.52" y1="548.52" y2="785.15" stroke="#f2f2f2" stroke-width="1.1"/>
<line x1="476.7" x2="476.7" y1="548.52" y2="785.15" stroke="#f5f5f5" stroke-width="1.0"/>
<line x1="494.88" x2="494.88" y1="548.52" y2="785.15" stroke="#f2f2f2" stroke-width="1.1"/>
<line x1="513.06" x2="513.06" y1="548.52" y2="785.15" stroke="#f5f5f5" stroke-width="1.0"/>
<line x1="531.24" x2="531.24" y1="548.52" y2="785.15" stroke="#f2f2f2" stroke-width="1.1"/>
<line x1="549.42" x2="549.42" y1="548.52" y2="785.15" stroke="#f5f5f5" stroke-width="1.0"/>
<line x1="567.6" x2="567.6" y1="548.52" y2="785.15" stroke="#f2f2f2" stroke-width="1.1"/>
<line x1="585.78" x2="585.78" y1="548.52" y2="785.15" stroke="#f5f5f5" stroke-width="1.0"/>
<line x1="603.96" x2="603.96" y1="548.52" y2="785.15" stroke="#f2f2f2" stroke-width="1.1"/>
<line x1="622.14" x2="622.14" y1="548.52" y2="785.15" stroke="#f5f5f5" stroke-width="1.0"/>
<line x1="640.32" x2="640.32" y1="548.52" y2="785.15" stroke="#f2f2f2" stroke-width="1.1"/>
<line x1="41.6" x2="354.9" y1="755.45" y2="755.45" stroke="#bdbdbd" stroke-width="2.2"/>
<line x1="372.1" x2="654.6" y1="755.45" y2="755.45" stroke="#bdbdbd" stroke-width="2.2"/>
<text x="35.6" y="779.07" font-size="10.8" fill="#4d4d4d" text-anchor="end">−10</text>
<text x="35.6" y="759.4" font-size="10.8" fill="#4d4d4d" text-anchor="end">0</text>
<text x="35.6" y="739.73" font-size="10.8" fill="#4d4d4d" text-anchor="end">10</text>
<text x="35.6" y="720.06" font-size="10.8" fill="#4d4d4d" text-anchor="end">20</text>
<text x="35.6" y="700.39" font-size="10.8" fill="#4d4d4d" text-anchor="end">30</text>
<text x="35.6" y="680.72" font-size="10.8" fill="#4d4d4d" text-anchor="end">40</text>
<text x="35.6" y="661.05" font-size="10.8" fill="#4d4d4d" text-anchor="end">50</text>
<text x="35.6" y="641.38" font-size="10.8" fill="#4d4d4d" text-anchor="end">60</text>
<text x="35.6" y="621.71" font-size="10.8" fill="#4d4d4d" text-anchor="end">70</text>
<text x="35.6" y="602.04" font-size="10.8" fill="#4d4d4d" text-anchor="end">80</text>
<text x="35.6" y="582.37" font-size="10.8" fill="#4d4d4d" text-anchor="end">90</text>
<text x="35.6" y="562.7" font-size="10.8" fill="#4d4d4d" text-anchor="end">100</text>
<text transform="translate(10.3,667.94) rotate(-90)" font-size="13.5" text-anchor="middle" fill="#000">Change in heart rate (beats/min)</text>
<path d="M57.5,674.64 L62.19,673.93 L66.89,673.22 L71.58,672.5 L76.28,671.78 L80.97,671.06 L85.67,670.33 L90.36,669.6 L95.06,668.86 L99.75,668.11 L104.45,667.36 L109.14,666.6 L113.84,665.84 L118.53,665.06 L123.23,664.27 L127.92,663.48 L132.61,662.67 L137.31,661.85 L142,661.02 L146.7,660.16 L151.39,659.3 L156.09,658.41 L160.78,657.49 L165.48,656.56 L170.17,655.59 L174.87,654.6 L179.56,653.57 L184.26,652.51 L188.95,651.4 L193.65,650.25 L198.34,649.06 L203.03,647.82 L207.73,646.52 L212.42,645.18 L217.12,643.78 L221.81,642.33 L226.51,640.82 L231.2,639.27 L235.9,637.67 L240.59,636.02 L245.29,634.33 L249.98,632.6 L254.68,630.84 L259.37,629.04 L264.07,627.22 L268.76,625.37 L273.45,623.49 L278.15,621.59 L282.84,619.67 L287.54,617.74 L292.23,615.79 L296.93,613.83 L301.62,611.85 L306.32,609.86 L311.01,607.86 L315.71,605.86 L320.4,603.84 L325.1,601.82 L329.79,599.79 L334.49,597.75 L339.18,595.71 L339.18,640.21 L334.49,640.95 L329.79,641.69 L325.1,642.44 L320.4,643.19 L315.71,643.96 L311.01,644.73 L306.32,645.51 L301.62,646.3 L296.93,647.11 L292.23,647.92 L287.54,648.75 L282.84,649.6 L278.15,650.46 L273.45,651.34 L268.76,652.25 L264.07,653.18 L259.37,654.13 L254.68,655.11 L249.98,656.13 L245.29,657.18 L240.59,658.27 L235.9,659.41 L231.2,660.58 L226.51,661.81 L221.81,663.09 L217.12,664.41 L212.42,665.8 L207.73,667.23 L203.03,668.72 L198.34,670.25 L193.65,671.84 L188.95,673.47 L184.26,675.15 L179.56,676.86 L174.87,678.61 L170.17,680.4 L165.48,682.22 L160.78,684.06 L156.09,685.93 L151.39,687.82 L146.7,689.73 L142,691.66 L137.31,693.6 L132.61,695.56 L127.92,697.54 L123.23,699.52 L118.53,701.52 L113.84,703.52 L109.14,705.53 L104.45,707.55 L99.75,709.58 L95.06,711.62 L90.36,713.66 L85.67,715.7 L80.97,717.76 L76.28,719.81 L71.58,721.87 L66.89,723.94 L62.19,726 L57.5,728.07Z" fill="rgba(66,5,244,0.2)"/>
<path d="M57.5,740.99 L62.19,738.95 L66.89,736.89 L71.58,734.83 L76.28,732.75 L80.97,730.66 L85.67,728.56 L90.36,726.45 L95.06,724.31 L99.75,722.16 L104.45,719.98 L109.14,717.77 L113.84,715.54 L118.53,713.28 L123.23,710.99 L127.92,708.66 L132.61,706.3 L137.31,703.91 L142,701.49 L146.7,699.04 L151.39,696.56 L156.09,694.06 L160.78,691.54 L165.48,689 L170.17,686.45 L174.87,683.88 L179.56,681.3 L184.26,678.71 L188.95,676.11 L193.65,673.5 L198.34,670.89 L203.03,668.27 L207.73,665.64 L212.42,663.01 L217.12,660.38 L221.81,657.74 L226.51,655.1 L231.2,652.45 L235.9,649.8 L240.59,647.15 L245.29,644.5 L249.98,641.85 L254.68,639.19 L259.37,636.53 L264.07,633.87 L268.76,631.21 L273.45,628.55 L278.15,625.89 L282.84,623.23 L287.54,620.56 L292.23,617.9 L296.93,615.23 L301.62,612.56 L306.32,609.9 L311.01,607.23 L315.71,604.56 L320.4,601.89 L325.1,599.22 L329.79,596.55 L334.49,593.88 L339.18,591.21 L339.18,624.25 L334.49,626.23 L329.79,628.22 L325.1,630.2 L320.4,632.19 L315.71,634.17 L311.01,636.16 L306.32,638.15 L301.62,640.14 L296.93,642.12 L292.23,644.11 L287.54,646.1 L282.84,648.09 L278.15,650.08 L273.45,652.08 L268.76,654.07 L264.07,656.07 L259.37,658.06 L254.68,660.06 L249.98,662.06 L245.29,664.06 L240.59,666.06 L235.9,668.07 L231.2,670.08 L226.51,672.09 L221.81,674.1 L217.12,676.12 L212.42,678.14 L207.73,680.16 L203.03,682.19 L198.34,684.22 L193.65,686.26 L188.95,688.31 L184.26,690.37 L179.56,692.43 L174.87,694.51 L170.17,696.6 L165.48,698.7 L160.78,700.81 L156.09,702.95 L151.39,705.11 L146.7,707.29 L142,709.49 L137.31,711.72 L132.61,713.99 L127.92,716.28 L123.23,718.61 L118.53,720.97 L113.84,723.37 L109.14,725.79 L104.45,728.24 L99.75,730.72 L95.06,733.22 L90.36,735.74 L85.67,738.28 L80.97,740.83 L76.28,743.4 L71.58,745.98 L66.89,748.57 L62.19,751.17 L57.5,753.78Z" fill="rgba(146,168,172,0.2)"/>
<line x1="57.5" y1="701.36" x2="62.9" y2="699.76" stroke="#4205F4" stroke-width="2.8" stroke-linecap="butt"/>
<line x1="157" y1="671.9" x2="339.18" y2="617.96" stroke="#4205F4" stroke-width="2.8" stroke-linecap="butt"/>
<text transform="translate(110.6,685.64) rotate(-16.49)" font-size="12.5" fill="#4205F4" text-anchor="middle" dy="4.4" textLength="90.89" lengthAdjust="spacingAndGlyphs">Slope: 15 [8, 23]</text>
<line x1="57.5" y1="747.39" x2="62.9" y2="744.71" stroke="#92A8AC" stroke-width="2.8" stroke-linecap="butt"/>
<line x1="158.5" y1="697.31" x2="339.18" y2="607.73" stroke="#92A8AC" stroke-width="2.8" stroke-linecap="butt"/>
<text transform="translate(111.05,720.84) rotate(-26.37)" font-size="12.5" fill="#92A8AC" text-anchor="middle" dy="4.4" textLength="100.43" lengthAdjust="spacingAndGlyphs">Slope: 26 [22, 29]</text>
<text x="339.3" y="733.25" font-size="13.6" fill="#4205F4" text-anchor="end" xml:space="preserve">Intercept difference:  24 [10, 37]</text>
<text x="339.3" y="747.85" font-size="13.6" fill="#4205F4" text-anchor="end" xml:space="preserve">Slope difference: −10 [−18, −2]</text>
<rect x="44.5" y="544.95" width="120.5" height="59" fill="#fff"/>
<text x="51" y="557.75" font-size="12.1" fill="#000" text-anchor="start" >Heating modality</text>
<rect x="51.85" y="566.8" width="13.9" height="13.3" fill="rgba(146,168,172,0.2)" stroke="#92A8AC" stroke-width="1.5"/>
<rect x="51.85" y="582.6" width="13.9" height="13.5" fill="rgba(66,5,244,0.2)" stroke="#4205F4" stroke-width="1.5"/>
<text x="73.2" y="577.35" font-size="11" fill="#000" text-anchor="start" >Climate chamber</text>
<text x="73.2" y="593.15" font-size="11" fill="#000" text-anchor="start" >Sauna</text>
<text x="57.5" y="799.4" font-size="10.8" fill="#4d4d4d" text-anchor="middle">0.0</text>
<text x="385.8" y="799.4" font-size="10.8" fill="#4d4d4d" text-anchor="middle">0.0</text>
<text x="97.74" y="799.4" font-size="10.8" fill="#4d4d4d" text-anchor="middle">0.4</text>
<text x="422.16" y="799.4" font-size="10.8" fill="#4d4d4d" text-anchor="middle">0.4</text>
<text x="137.98" y="799.4" font-size="10.8" fill="#4d4d4d" text-anchor="middle">0.8</text>
<text x="458.52" y="799.4" font-size="10.8" fill="#4d4d4d" text-anchor="middle">0.8</text>
<text x="178.22" y="799.4" font-size="10.8" fill="#4d4d4d" text-anchor="middle">1.2</text>
<text x="494.88" y="799.4" font-size="10.8" fill="#4d4d4d" text-anchor="middle">1.2</text>
<text x="218.46" y="799.4" font-size="10.8" fill="#4d4d4d" text-anchor="middle">1.6</text>
<text x="531.24" y="799.4" font-size="10.8" fill="#4d4d4d" text-anchor="middle">1.6</text>
<text x="258.7" y="799.4" font-size="10.8" fill="#4d4d4d" text-anchor="middle">2.0</text>
<text x="567.6" y="799.4" font-size="10.8" fill="#4d4d4d" text-anchor="middle">2.0</text>
<text x="298.94" y="799.4" font-size="10.8" fill="#4d4d4d" text-anchor="middle">2.4</text>
<text x="603.96" y="799.4" font-size="10.8" fill="#4d4d4d" text-anchor="middle">2.4</text>
<text x="339.18" y="799.4" font-size="10.8" fill="#4d4d4d" text-anchor="middle">2.8</text>
<text x="640.32" y="799.4" font-size="10.8" fill="#4d4d4d" text-anchor="middle">2.8</text>
<text x="470.5" y="814.5" font-size="13.6" fill="#000" text-anchor="start" >Change in core temperature (°C)</text>
<rect x="496.5" y="78.6" width="92" height="12.4" fill="#fff"/>
<text x="498.3" y="88.9" font-size="11" fill="#000" text-anchor="start" >Rowell et al. 1969</text>
<g stroke="rgba(255,255,255,0.85)" stroke-width="1.0"><circle cx="497.65" cy="151.87" r="7.36" fill="rgba(255,23,68,0.62)"/><circle cx="502.04" cy="151.22" r="5.83" fill="rgba(255,23,68,0.62)"/><circle cx="485.89" cy="155.6" r="6.32" fill="rgba(255,23,68,0.62)"/><circle cx="491.26" cy="154.81" r="6.98" fill="rgba(255,23,68,0.62)"/><circle cx="499.41" cy="154.42" r="7.38" fill="rgba(255,23,68,0.62)"/><circle cx="508.19" cy="157.43" r="7.46" fill="rgba(255,23,68,0.62)"/><circle cx="513.66" cy="155.63" r="6.3" fill="rgba(255,23,68,0.62)"/><circle cx="466.59" cy="162.91" r="6.83" fill="rgba(255,23,68,0.62)"/><circle cx="476.64" cy="162.26" r="5.85" fill="rgba(255,23,68,0.62)"/><circle cx="482.54" cy="162.55" r="6.5" fill="rgba(255,23,68,0.62)"/><circle cx="488.48" cy="164.05" r="5.84" fill="rgba(255,23,68,0.62)"/><circle cx="497.84" cy="160.86" r="6.18" fill="rgba(255,23,68,0.62)"/><circle cx="504.2" cy="163.87" r="6.57" fill="rgba(255,23,68,0.62)"/><circle cx="508.41" cy="161.16" r="6.96" fill="rgba(255,23,68,0.62)"/><circle cx="516.4" cy="160.85" r="5.87" fill="rgba(255,23,68,0.62)"/><circle cx="522.4" cy="164.08" r="6.45" fill="rgba(255,23,68,0.62)"/><circle cx="450.39" cy="167.83" r="6.72" fill="rgba(255,23,68,0.62)"/><circle cx="456.75" cy="167.61" r="6.25" fill="rgba(255,23,68,0.62)"/><circle cx="464.74" cy="166.24" r="6.4" fill="rgba(255,23,68,0.62)"/><circle cx="469.68" cy="167.31" r="7.52" fill="rgba(255,23,68,0.62)"/><circle cx="477.91" cy="167.34" r="7.5" fill="rgba(255,23,68,0.62)"/><circle cx="486.03" cy="168.67" r="6.5" fill="rgba(255,23,68,0.62)"/><circle cx="492.16" cy="168.79" r="6.15" fill="rgba(255,23,68,0.62)"/><circle cx="498.84" cy="167.14" r="6.48" fill="rgba(255,23,68,0.62)"/><circle cx="508" cy="168.46" r="6.52" fill="rgba(255,23,68,0.62)"/><circle cx="514.31" cy="167.86" r="5.88" fill="rgba(255,23,68,0.62)"/><circle cx="520.28" cy="167.22" r="6.75" fill="rgba(255,23,68,0.62)"/><circle cx="527.45" cy="168.43" r="7.39" fill="rgba(255,23,68,0.62)"/><circle cx="433.9" cy="176.2" r="7.02" fill="rgba(255,23,68,0.62)"/><circle cx="439.26" cy="173.1" r="5.8" fill="rgba(255,23,68,0.62)"/><circle cx="448.29" cy="174.36" r="6.01" fill="rgba(255,23,68,0.62)"/><circle cx="454.6" cy="175.74" r="7.56" fill="rgba(255,23,68,0.62)"/><circle cx="459.4" cy="175.66" r="5.95" fill="rgba(255,23,68,0.62)"/><circle cx="467.1" cy="174.06" r="7.35" fill="rgba(255,23,68,0.62)"/><circle cx="473.53" cy="174.33" r="6.42" fill="rgba(255,23,68,0.62)"/><circle cx="483.49" cy="173.36" r="5.87" fill="rgba(255,23,68,0.62)"/><circle cx="489.72" cy="174.48" r="7.49" fill="rgba(255,23,68,0.62)"/><circle cx="497.64" cy="172.42" r="7.06" fill="rgba(255,23,68,0.62)"/><circle cx="503.62" cy="175.1" r="6.95" fill="rgba(255,23,68,0.62)"/><circle cx="509.49" cy="174.4" r="6.86" fill="rgba(255,23,68,0.62)"/><circle cx="515.04" cy="172.85" r="7.22" fill="rgba(255,23,68,0.62)"/><circle cx="524.87" cy="173.6" r="5.87" fill="rgba(255,23,68,0.62)"/><circle cx="427.69" cy="179.03" r="5.93" fill="rgba(255,23,68,0.62)"/><circle cx="436.11" cy="179.62" r="5.98" fill="rgba(255,23,68,0.62)"/><circle cx="445.13" cy="180.21" r="7.56" fill="rgba(255,23,68,0.62)"/><circle cx="449.87" cy="180.23" r="6.57" fill="rgba(255,23,68,0.62)"/><circle cx="456.71" cy="181.25" r="7.46" fill="rgba(255,23,68,0.62)"/><circle cx="465.01" cy="179.81" r="6.95" fill="rgba(255,23,68,0.62)"/><circle cx="469.76" cy="178.65" r="5.91" fill="rgba(255,23,68,0.62)"/><circle cx="476.53" cy="179.89" r="6.61" fill="rgba(255,23,68,0.62)"/><circle cx="485.45" cy="180.65" r="6.56" fill="rgba(255,23,68,0.62)"/><circle cx="491.97" cy="182.26" r="7.2" fill="rgba(255,23,68,0.62)"/><circle cx="499.22" cy="179.74" r="7.35" fill="rgba(255,23,68,0.62)"/><circle cx="507.31" cy="181.92" r="7.02" fill="rgba(255,23,68,0.62)"/><circle cx="511.98" cy="179.9" r="5.88" fill="rgba(255,23,68,0.62)"/><circle cx="522.29" cy="179.17" r="6.16" fill="rgba(255,23,68,0.62)"/><circle cx="427.67" cy="185.66" r="6.7" fill="rgba(255,23,68,0.62)"/><circle cx="433.68" cy="185.18" r="6.19" fill="rgba(255,23,68,0.62)"/><circle cx="439.36" cy="188.22" r="7.27" fill="rgba(255,23,68,0.62)"/><circle cx="445.14" cy="184.97" r="7.21" fill="rgba(255,23,68,0.62)"/><circle cx="455.37" cy="186.7" r="7.25" fill="rgba(255,23,68,0.62)"/><circle cx="459.27" cy="184.71" r="5.87" fill="rgba(255,23,68,0.62)"/><circle cx="466.9" cy="184.53" r="7.32" fill="rgba(255,23,68,0.62)"/><circle cx="474.32" cy="185.01" r="6.98" fill="rgba(255,23,68,0.62)"/><circle cx="483.87" cy="186.39" r="6.7" fill="rgba(255,23,68,0.62)"/><circle cx="489.3" cy="187.09" r="7.16" fill="rgba(255,23,68,0.62)"/><circle cx="497.96" cy="187.36" r="6.17" fill="rgba(255,23,68,0.62)"/><circle cx="503.14" cy="186.77" r="6.67" fill="rgba(255,23,68,0.62)"/><circle cx="511.16" cy="185.93" r="7.33" fill="rgba(255,23,68,0.62)"/><circle cx="518.19" cy="187" r="6.13" fill="rgba(255,23,68,0.62)"/><circle cx="524.03" cy="185.39" r="7.35" fill="rgba(255,23,68,0.62)"/><circle cx="421.01" cy="191.58" r="5.9" fill="rgba(255,23,68,0.62)"/><circle cx="427.64" cy="192.11" r="7.35" fill="rgba(255,23,68,0.62)"/><circle cx="437.37" cy="193.13" r="7.58" fill="rgba(255,23,68,0.62)"/><circle cx="443.14" cy="192.88" r="5.88" fill="rgba(255,23,68,0.62)"/><circle cx="450.38" cy="191.04" r="6.91" fill="rgba(255,23,68,0.62)"/><circle cx="458.02" cy="190.86" r="6.42" fill="rgba(255,23,68,0.62)"/><circle cx="464.03" cy="193.54" r="7.39" fill="rgba(255,23,68,0.62)"/><circle cx="471.94" cy="192.3" r="6.41" fill="rgba(255,23,68,0.62)"/><circle cx="477" cy="193.16" r="7.22" fill="rgba(255,23,68,0.62)"/><circle cx="484.01" cy="194.08" r="7.45" fill="rgba(255,23,68,0.62)"/><circle cx="493.99" cy="193.16" r="6.73" fill="rgba(255,23,68,0.62)"/><circle cx="500.64" cy="191.19" r="6.6" fill="rgba(255,23,68,0.62)"/><circle cx="507.53" cy="192.26" r="5.94" fill="rgba(255,23,68,0.62)"/><circle cx="511.68" cy="194.17" r="7.42" fill="rgba(255,23,68,0.62)"/><circle cx="418.22" cy="196.95" r="6.82" fill="rgba(255,23,68,0.62)"/><circle cx="427.69" cy="200.24" r="5.98" fill="rgba(255,23,68,0.62)"/><circle cx="434.1" cy="199.43" r="6.6" fill="rgba(255,23,68,0.62)"/><circle cx="440.75" cy="196.62" r="7.53" fill="rgba(255,23,68,0.62)"/><circle cx="447.89" cy="196.81" r="6.45" fill="rgba(255,23,68,0.62)"/><circle cx="452.12" cy="197.89" r="7.55" fill="rgba(255,23,68,0.62)"/><circle cx="462.28" cy="196.78" r="6.17" fill="rgba(255,23,68,0.62)"/><circle cx="466.82" cy="199.19" r="6.02" fill="rgba(255,23,68,0.62)"/><circle cx="473.03" cy="197.97" r="6.89" fill="rgba(255,23,68,0.62)"/><circle cx="483.44" cy="197.24" r="6.42" fill="rgba(255,23,68,0.62)"/><circle cx="490.84" cy="197.02" r="6.45" fill="rgba(255,23,68,0.62)"/><circle cx="495.89" cy="197.67" r="7.52" fill="rgba(255,23,68,0.62)"/><circle cx="503.54" cy="197.23" r="5.98" fill="rgba(255,23,68,0.62)"/><circle cx="510.32" cy="197.12" r="7.5" fill="rgba(255,23,68,0.62)"/><circle cx="420.79" cy="204.24" r="7.13" fill="rgba(255,23,68,0.62)"/><circle cx="428.07" cy="204.25" r="5.95" fill="rgba(255,23,68,0.62)"/><circle cx="436.28" cy="204.04" r="5.9" fill="rgba(255,23,68,0.62)"/><circle cx="443.13" cy="204.23" r="6.38" fill="rgba(255,23,68,0.62)"/><circle cx="449.32" cy="203.73" r="7.51" fill="rgba(255,23,68,0.62)"/><circle cx="458.69" cy="203.67" r="7.04" fill="rgba(255,23,68,0.62)"/><circle cx="465.68" cy="204.34" r="7.18" fill="rgba(255,23,68,0.62)"/><circle cx="471.23" cy="203.55" r="7.49" fill="rgba(255,23,68,0.62)"/><circle cx="477.07" cy="204.41" r="6.67" fill="rgba(255,23,68,0.62)"/><circle cx="484.31" cy="202.57" r="6.91" fill="rgba(255,23,68,0.62)"/><circle cx="490.53" cy="203.75" r="6.93" fill="rgba(255,23,68,0.62)"/><circle cx="499.68" cy="203.18" r="6.65" fill="rgba(255,23,68,0.62)"/><circle cx="507.21" cy="205.6" r="7.17" fill="rgba(255,23,68,0.62)"/><circle cx="420.02" cy="212.26" r="5.86" fill="rgba(255,23,68,0.62)"/><circle cx="427.17" cy="209.84" r="6.75" fill="rgba(255,23,68,0.62)"/><circle cx="432" cy="212.3" r="6.55" fill="rgba(255,23,68,0.62)"/><circle cx="439.16" cy="210.7" r="6.93" fill="rgba(255,23,68,0.62)"/><circle cx="447.13" cy="210.26" r="6.53" fill="rgba(255,23,68,0.62)"/><circle cx="455.11" cy="211.77" r="6.47" fill="rgba(255,23,68,0.62)"/><circle cx="461.52" cy="209.25" r="6.49" fill="rgba(255,23,68,0.62)"/><circle cx="468.36" cy="209.18" r="6.44" fill="rgba(255,23,68,0.62)"/><circle cx="474.89" cy="210.28" r="7.05" fill="rgba(255,23,68,0.62)"/><circle cx="481.27" cy="211.23" r="6.34" fill="rgba(255,23,68,0.62)"/><circle cx="489.98" cy="208.83" r="5.85" fill="rgba(255,23,68,0.62)"/><circle cx="495.89" cy="212.17" r="6.75" fill="rgba(255,23,68,0.62)"/><circle cx="501.27" cy="212.09" r="7.14" fill="rgba(255,23,68,0.62)"/><circle cx="414.65" cy="215.1" r="6.39" fill="rgba(255,23,68,0.62)"/><circle cx="421.17" cy="216.37" r="6.58" fill="rgba(255,23,68,0.62)"/><circle cx="429.29" cy="217.52" r="6.03" fill="rgba(255,23,68,0.62)"/><circle cx="438.14" cy="216.46" r="6.5" fill="rgba(255,23,68,0.62)"/><circle cx="444.73" cy="216.24" r="6.15" fill="rgba(255,23,68,0.62)"/><circle cx="452.26" cy="217.03" r="6.5" fill="rgba(255,23,68,0.62)"/><circle cx="456.44" cy="215.02" r="5.9" fill="rgba(255,23,68,0.62)"/><circle cx="465.05" cy="215.38" r="6.9" fill="rgba(255,23,68,0.62)"/><circle cx="472.32" cy="216.73" r="7.38" fill="rgba(255,23,68,0.62)"/><circle cx="477.91" cy="216.52" r="6.73" fill="rgba(255,23,68,0.62)"/><circle cx="406.88" cy="222.33" r="6.62" fill="rgba(255,23,68,0.62)"/><circle cx="411.36" cy="221.15" r="7.23" fill="rgba(255,23,68,0.62)"/><circle cx="418.29" cy="222.57" r="5.85" fill="rgba(255,23,68,0.62)"/><circle cx="424.18" cy="222.22" r="6.74" fill="rgba(255,23,68,0.62)"/><circle cx="431.75" cy="221.55" r="7.12" fill="rgba(255,23,68,0.62)"/><circle cx="439.25" cy="224.18" r="6.42" fill="rgba(255,23,68,0.62)"/><circle cx="447.85" cy="220.92" r="5.93" fill="rgba(255,23,68,0.62)"/><circle cx="453.84" cy="223.64" r="7.26" fill="rgba(255,23,68,0.62)"/><circle cx="462.92" cy="222.59" r="5.95" fill="rgba(255,23,68,0.62)"/><circle cx="407.3" cy="227.99" r="6.89" fill="rgba(255,23,68,0.62)"/><circle cx="415.64" cy="227.85" r="6.01" fill="rgba(255,23,68,0.62)"/><circle cx="423.63" cy="227.2" r="6.25" fill="rgba(255,23,68,0.62)"/><circle cx="428.64" cy="229.75" r="7.14" fill="rgba(255,23,68,0.62)"/><circle cx="436.56" cy="230.24" r="6.96" fill="rgba(255,23,68,0.62)"/><circle cx="441.97" cy="229.76" r="7.01" fill="rgba(255,23,68,0.62)"/><circle cx="403.85" cy="235.8" r="7.17" fill="rgba(255,23,68,0.62)"/><circle cx="411.41" cy="235.23" r="7.42" fill="rgba(255,23,68,0.62)"/><circle cx="417.43" cy="236.2" r="6.45" fill="rgba(255,23,68,0.62)"/><circle cx="425.82" cy="232.92" r="6.97" fill="rgba(255,23,68,0.62)"/><circle cx="416.12" cy="239.2" r="7.55" fill="rgba(255,23,68,0.62)"/><circle cx="470.91" cy="169.92" r="6.28" fill="rgba(255,23,68,0.62)"/><circle cx="474.24" cy="195.11" r="6.79" fill="rgba(255,23,68,0.62)"/><circle cx="562.58" cy="161.7" r="5.7" fill="rgba(255,23,68,0.62)"/><circle cx="558.55" cy="148.44" r="5.79" fill="rgba(255,23,68,0.62)"/><circle cx="564.6" cy="153.93" r="6.52" fill="rgba(255,23,68,0.62)"/><circle cx="566.55" cy="154.17" r="6.2" fill="rgba(255,23,68,0.62)"/><circle cx="562.76" cy="154.82" r="5.93" fill="rgba(255,23,68,0.62)"/><circle cx="560.6" cy="155.7" r="5.78" fill="rgba(255,23,68,0.62)"/><circle cx="482.78" cy="166.32" r="6.32" fill="rgba(255,23,68,0.62)"/><circle cx="440.69" cy="169.6" r="7.59" fill="rgba(255,23,68,0.62)"/><circle cx="458.94" cy="166.68" r="7.3" fill="rgba(255,23,68,0.62)"/><circle cx="429.74" cy="179.82" r="7.59" fill="rgba(255,23,68,0.62)"/><circle cx="440.69" cy="188.58" r="7.59" fill="rgba(255,23,68,0.62)"/><circle cx="429.74" cy="190.04" r="6.57" fill="rgba(255,23,68,0.62)"/><circle cx="471.35" cy="166.68" r="6.57" fill="rgba(255,23,68,0.62)"/><circle cx="412.96" cy="207.55" r="6.57" fill="rgba(255,23,68,0.62)"/><circle cx="397.63" cy="216.31" r="5.84" fill="rgba(255,23,68,0.62)"/><circle cx="445.07" cy="207.55" r="7.3" fill="rgba(255,23,68,0.62)"/><circle cx="456.75" cy="192.96" r="7.3" fill="rgba(255,23,68,0.62)"/><circle cx="471.35" cy="195.88" r="7.3" fill="rgba(255,23,68,0.62)"/><circle cx="563.43" cy="179.82" r="6.57" fill="rgba(255,23,68,0.62)"/><circle cx="537.88" cy="187.12" r="7.3" fill="rgba(255,23,68,0.62)"/><circle cx="522.55" cy="190.04" r="8.03" fill="rgba(255,23,68,0.62)"/><circle cx="518.18" cy="197.34" r="7.3" fill="rgba(255,23,68,0.62)"/><circle cx="508.69" cy="212.66" r="7.59" fill="rgba(255,23,68,0.62)"/><circle cx="503.58" cy="182.74" r="7.59" fill="rgba(255,23,68,0.62)"/><circle cx="522.55" cy="175.44" r="6.57" fill="rgba(255,23,68,0.62)"/><circle cx="548.83" cy="162.3" r="6.57" fill="rgba(255,23,68,0.62)"/><circle cx="564.89" cy="159.38" r="5.84" fill="rgba(255,23,68,0.62)"/><circle cx="475.84" cy="168.14" r="8.03" fill="rgba(255,23,68,0.62)"/><circle cx="481.68" cy="188.58" r="7.3" fill="rgba(255,23,68,0.62)"/><circle cx="478.76" cy="197.34" r="7.3" fill="rgba(255,23,68,0.62)"/><circle cx="496.28" cy="200.26" r="7.3" fill="rgba(255,23,68,0.62)"/><circle cx="513.8" cy="163.76" r="7.3" fill="rgba(255,23,68,0.62)"/><circle cx="488.98" cy="173.98" r="7.3" fill="rgba(255,23,68,0.62)"/><circle cx="505.04" cy="138.39" r="7.01" fill="rgba(255,23,68,0.62)"/><circle cx="528.39" cy="132.55" r="4.09" fill="rgba(255,23,68,0.62)"/><circle cx="522.55" cy="135.47" r="5.84" fill="rgba(255,23,68,0.62)"/><circle cx="494.82" cy="154.45" r="6.57" fill="rgba(255,23,68,0.62)"/><circle cx="478.76" cy="158.83" r="5.84" fill="rgba(255,23,68,0.62)"/><circle cx="557.59" cy="138.39" r="6.57" fill="rgba(255,23,68,0.62)"/><circle cx="547.37" cy="144.23" r="5.84" fill="rgba(255,23,68,0.62)"/><circle cx="544.45" cy="151.53" r="6.57" fill="rgba(255,23,68,0.62)"/><circle cx="554.67" cy="148.61" r="5.84" fill="rgba(255,23,68,0.62)"/><circle cx="561.97" cy="152.99" r="6.57" fill="rgba(255,23,68,0.62)"/><circle cx="592.34" cy="90.22" r="4.09" fill="rgba(255,23,68,0.62)"/><circle cx="577.01" cy="103.36" r="7.74" fill="rgba(255,23,68,0.62)"/><circle cx="568.98" cy="155.18" r="6.57" fill="rgba(255,23,68,0.62)"/><circle cx="560.22" cy="155.91" r="6.57" fill="rgba(255,23,68,0.62)"/><circle cx="558.76" cy="152.19" r="6.57" fill="rgba(255,23,68,0.62)"/><circle cx="430.47" cy="249.42" r="5.84" fill="rgba(255,23,68,0.62)"/><circle cx="446.53" cy="211.46" r="6.57" fill="rgba(255,23,68,0.62)"/><circle cx="472.81" cy="215.84" r="6.57" fill="rgba(255,23,68,0.62)"/><circle cx="518.39" cy="201.46" r="6.57" fill="rgba(255,23,68,0.62)"/><circle cx="493.58" cy="202.92" r="6.57" fill="rgba(255,23,68,0.62)"/><circle cx="474.6" cy="207.3" r="6.57" fill="rgba(255,23,68,0.62)"/><circle cx="458.5" cy="136.2" r="7.3" fill="rgba(255,23,68,0.62)"/><circle cx="468.18" cy="188.18" r="6.57" fill="rgba(255,23,68,0.62)"/><circle cx="490.07" cy="186.72" r="6.57" fill="rgba(255,23,68,0.62)"/><circle cx="516.35" cy="192.55" r="6.57" fill="rgba(255,23,68,0.62)"/><circle cx="425.84" cy="195.47" r="6.57" fill="rgba(255,23,68,0.62)"/><circle cx="482.92" cy="163.8" r="7.3" fill="rgba(255,23,68,0.62)"/><circle cx="506.28" cy="184.23" r="7.3" fill="rgba(255,23,68,0.62)"/><circle cx="439.16" cy="211.89" r="7.77" fill="rgba(146,168,172,0.55)"/><circle cx="412.5" cy="215.52" r="7.23" fill="rgba(146,168,172,0.55)"/><circle cx="420.67" cy="216.94" r="7.13" fill="rgba(146,168,172,0.55)"/><circle cx="428.42" cy="216.75" r="7.91" fill="rgba(146,168,172,0.55)"/><circle cx="437.58" cy="218.51" r="8.35" fill="rgba(146,168,172,0.55)"/><circle cx="444.48" cy="218.65" r="8.11" fill="rgba(146,168,172,0.55)"/><circle cx="451.2" cy="217.38" r="6.95" fill="rgba(146,168,172,0.55)"/><circle cx="460.37" cy="217.17" r="6.81" fill="rgba(146,168,172,0.55)"/><circle cx="392.52" cy="225.41" r="7.96" fill="rgba(146,168,172,0.55)"/><circle cx="397.79" cy="222.75" r="7.19" fill="rgba(146,168,172,0.55)"/><circle cx="405.73" cy="224.27" r="6.93" fill="rgba(146,168,172,0.55)"/><circle cx="414.75" cy="225.91" r="7.54" fill="rgba(146,168,172,0.55)"/><circle cx="423.67" cy="225.49" r="7.44" fill="rgba(146,168,172,0.55)"/><circle cx="431.65" cy="225.3" r="7.51" fill="rgba(146,168,172,0.55)"/><circle cx="440.96" cy="222.24" r="7.35" fill="rgba(146,168,172,0.55)"/><circle cx="449.18" cy="224.28" r="7.28" fill="rgba(146,168,172,0.55)"/><circle cx="456.52" cy="225.91" r="6.94" fill="rgba(146,168,172,0.55)"/><circle cx="463.64" cy="222.4" r="7.3" fill="rgba(146,168,172,0.55)"/><circle cx="388.05" cy="233.14" r="7.6" fill="rgba(146,168,172,0.55)"/><circle cx="394.26" cy="232.9" r="7.92" fill="rgba(146,168,172,0.55)"/><circle cx="401.61" cy="231.28" r="7.66" fill="rgba(146,168,172,0.55)"/><circle cx="410.59" cy="229.41" r="8.12" fill="rgba(146,168,172,0.55)"/><circle cx="419.24" cy="230.82" r="7.65" fill="rgba(146,168,172,0.55)"/><circle cx="429.36" cy="231.23" r="6.98" fill="rgba(146,168,172,0.55)"/><circle cx="437.7" cy="232.15" r="7.62" fill="rgba(146,168,172,0.55)"/><circle cx="442.99" cy="231.54" r="7.28" fill="rgba(146,168,172,0.55)"/><circle cx="452.64" cy="231.17" r="7.86" fill="rgba(146,168,172,0.55)"/><circle cx="459.89" cy="232.43" r="7.72" fill="rgba(146,168,172,0.55)"/><circle cx="470.94" cy="230.3" r="6.88" fill="rgba(146,168,172,0.55)"/><circle cx="389.66" cy="237.51" r="6.8" fill="rgba(146,168,172,0.55)"/><circle cx="398.53" cy="240.1" r="7.87" fill="rgba(146,168,172,0.55)"/><circle cx="409.46" cy="238.35" r="8.23" fill="rgba(146,168,172,0.55)"/><circle cx="415.9" cy="238.38" r="8.3" fill="rgba(146,168,172,0.55)"/><circle cx="423.34" cy="237.19" r="8.05" fill="rgba(146,168,172,0.55)"/><circle cx="431.35" cy="239.1" r="8.31" fill="rgba(146,168,172,0.55)"/><circle cx="441.66" cy="240.21" r="6.86" fill="rgba(146,168,172,0.55)"/><circle cx="446.72" cy="237.19" r="7.03" fill="rgba(146,168,172,0.55)"/><circle cx="457.62" cy="238.17" r="7.6" fill="rgba(146,168,172,0.55)"/><circle cx="386.65" cy="243.74" r="8.23" fill="rgba(146,168,172,0.55)"/><circle cx="394.74" cy="246" r="7.4" fill="rgba(146,168,172,0.55)"/><circle cx="403.88" cy="245.2" r="7.57" fill="rgba(146,168,172,0.55)"/><circle cx="410.69" cy="246.01" r="7.68" fill="rgba(146,168,172,0.55)"/><circle cx="421.35" cy="246.67" r="8.37" fill="rgba(146,168,172,0.55)"/><circle cx="428.76" cy="245.64" r="8.09" fill="rgba(146,168,172,0.55)"/><circle cx="435.5" cy="246.18" r="7.7" fill="rgba(146,168,172,0.55)"/><circle cx="444.92" cy="245.62" r="6.86" fill="rgba(146,168,172,0.55)"/><circle cx="400.04" cy="253.82" r="8.22" fill="rgba(146,168,172,0.55)"/><circle cx="407.32" cy="252.5" r="7.14" fill="rgba(146,168,172,0.55)"/><circle cx="416.32" cy="253.66" r="8.11" fill="rgba(146,168,172,0.55)"/><circle cx="424.62" cy="250.73" r="8.39" fill="rgba(146,168,172,0.55)"/><circle cx="432.28" cy="250.62" r="7.39" fill="rgba(146,168,172,0.55)"/><circle cx="429.74" cy="260.73" r="7.4" fill="rgba(146,168,172,0.55)"/><circle cx="454.51" cy="165.41" r="7.1" fill="rgba(146,168,172,0.55)"/><circle cx="485.07" cy="164.94" r="7.32" fill="rgba(146,168,172,0.55)"/><circle cx="502.9" cy="163.95" r="6.06" fill="rgba(146,168,172,0.55)"/><circle cx="450.35" cy="171.04" r="6.88" fill="rgba(146,168,172,0.55)"/><circle cx="522.04" cy="171.18" r="7" fill="rgba(146,168,172,0.55)"/><circle cx="458.64" cy="184.03" r="7.21" fill="rgba(146,168,172,0.55)"/><circle cx="430.56" cy="192.49" r="5.88" fill="rgba(146,168,172,0.55)"/><circle cx="454.52" cy="191.84" r="7.1" fill="rgba(146,168,172,0.55)"/><circle cx="456.23" cy="196.55" r="7.37" fill="rgba(146,168,172,0.55)"/><circle cx="438.66" cy="206.8" r="7.29" fill="rgba(146,168,172,0.55)"/><circle cx="433.52" cy="210.85" r="7.3" fill="rgba(146,168,172,0.55)"/><circle cx="470.25" cy="220.36" r="6.93" fill="rgba(146,168,172,0.55)"/><circle cx="441.94" cy="225.27" r="6.86" fill="rgba(146,168,172,0.55)"/><circle cx="412.03" cy="232.94" r="6.82" fill="rgba(146,168,172,0.55)"/><circle cx="422.01" cy="173.98" r="7.59" fill="rgba(146,168,172,0.55)"/><circle cx="403.76" cy="189.74" r="7.59" fill="rgba(146,168,172,0.55)"/><circle cx="413.25" cy="194.71" r="7.59" fill="rgba(146,168,172,0.55)"/><circle cx="450.91" cy="181.28" r="6.57" fill="rgba(146,168,172,0.55)"/><circle cx="462.59" cy="175.44" r="7.59" fill="rgba(146,168,172,0.55)"/><circle cx="466.97" cy="184.93" r="7.3" fill="rgba(146,168,172,0.55)"/><circle cx="437.77" cy="195.88" r="7.59" fill="rgba(146,168,172,0.55)"/><circle cx="450.91" cy="200.26" r="7.3" fill="rgba(146,168,172,0.55)"/><circle cx="464.05" cy="207.55" r="7.59" fill="rgba(146,168,172,0.55)"/><circle cx="440.69" cy="216.31" r="8.03" fill="rgba(146,168,172,0.55)"/><circle cx="427.55" cy="213.39" r="7.59" fill="rgba(146,168,172,0.55)"/><circle cx="417.34" cy="213.39" r="7.59" fill="rgba(146,168,172,0.55)"/><circle cx="404.2" cy="223.61" r="8.03" fill="rgba(146,168,172,0.55)"/><circle cx="392.52" cy="225.07" r="7.3" fill="rgba(146,168,172,0.55)"/><circle cx="386.68" cy="232.37" r="7.3" fill="rgba(146,168,172,0.55)"/><circle cx="423.18" cy="225.07" r="7.59" fill="rgba(146,168,172,0.55)"/><circle cx="437.77" cy="229.45" r="7.59" fill="rgba(146,168,172,0.55)"/><circle cx="459.67" cy="226.53" r="7.59" fill="rgba(146,168,172,0.55)"/><circle cx="456.75" cy="214.85" r="7.59" fill="rgba(146,168,172,0.55)"/><circle cx="471.35" cy="222.15" r="7.59" fill="rgba(146,168,172,0.55)"/><circle cx="468.43" cy="232.37" r="7.59" fill="rgba(146,168,172,0.55)"/><circle cx="411.5" cy="232.37" r="7.59" fill="rgba(146,168,172,0.55)"/><circle cx="549.56" cy="181.28" r="7.59" fill="rgba(146,168,172,0.55)"/><circle cx="537.15" cy="163.03" r="7.59" fill="rgba(146,168,172,0.55)"/><circle cx="518.18" cy="160.84" r="7.59" fill="rgba(146,168,172,0.55)"/><circle cx="494.82" cy="163.76" r="8.03" fill="rgba(146,168,172,0.55)"/><circle cx="503.58" cy="171.06" r="6.57" fill="rgba(146,168,172,0.55)"/><circle cx="486.06" cy="183.47" r="7.3" fill="rgba(146,168,172,0.55)"/><circle cx="503.58" cy="197.34" r="8.03" fill="rgba(146,168,172,0.55)"/><circle cx="491.9" cy="209.01" r="7.3" fill="rgba(146,168,172,0.55)"/><circle cx="486.06" cy="217.77" r="8.03" fill="rgba(146,168,172,0.55)"/><circle cx="475.84" cy="206.09" r="8.03" fill="rgba(146,168,172,0.55)"/><circle cx="474.38" cy="232.37" r="7.3" fill="rgba(146,168,172,0.55)"/><circle cx="470" cy="184.2" r="6.57" fill="rgba(146,168,172,0.55)"/><circle cx="529.85" cy="157.92" r="5.84" fill="rgba(146,168,172,0.55)"/><circle cx="522.26" cy="108.03" r="6.13" fill="rgba(146,168,172,0.55)"/><circle cx="472.19" cy="130.36" r="7.59" fill="rgba(146,168,172,0.55)"/><circle cx="519.64" cy="141.31" r="8.03" fill="rgba(146,168,172,0.55)"/><circle cx="526.93" cy="144.23" r="5.84" fill="rgba(146,168,172,0.55)"/><circle cx="509.42" cy="150.07" r="5.84" fill="rgba(146,168,172,0.55)"/><circle cx="531.31" cy="152.99" r="5.84" fill="rgba(146,168,172,0.55)"/><circle cx="557.59" cy="131.09" r="7.3" fill="rgba(146,168,172,0.55)"/><circle cx="566.35" cy="129.64" r="6.57" fill="rgba(146,168,172,0.55)"/><circle cx="564.89" cy="141.31" r="6.57" fill="rgba(146,168,172,0.55)"/><circle cx="518.18" cy="155.91" r="5.84" fill="rgba(146,168,172,0.55)"/><circle cx="587.96" cy="130.36" r="7.3" fill="rgba(146,168,172,0.55)"/><circle cx="576.28" cy="134.74" r="7.01" fill="rgba(146,168,172,0.55)"/><circle cx="571.9" cy="141.31" r="7.3" fill="rgba(146,168,172,0.55)"/><circle cx="385.22" cy="253.8" r="7.59" fill="rgba(146,168,172,0.55)"/><circle cx="394.71" cy="255.26" r="8.03" fill="rgba(146,168,172,0.55)"/><circle cx="394.71" cy="239.93" r="8.03" fill="rgba(146,168,172,0.55)"/><circle cx="404.2" cy="228.98" r="8.03" fill="rgba(146,168,172,0.55)"/><circle cx="413.69" cy="240.66" r="8.03" fill="rgba(146,168,172,0.55)"/><circle cx="406.39" cy="251.61" r="5.84" fill="rgba(146,168,172,0.55)"/><circle cx="414.42" cy="247.96" r="6.57" fill="rgba(146,168,172,0.55)"/><circle cx="422.45" cy="228.98" r="8.03" fill="rgba(146,168,172,0.55)"/><circle cx="418.8" cy="216.57" r="6.57" fill="rgba(146,168,172,0.55)"/><circle cx="430.47" cy="215.84" r="7.3" fill="rgba(146,168,172,0.55)"/><circle cx="438.5" cy="234.82" r="8.03" fill="rgba(146,168,172,0.55)"/><circle cx="440.69" cy="244.31" r="7.3" fill="rgba(146,168,172,0.55)"/><circle cx="426.09" cy="256.72" r="7.59" fill="rgba(146,168,172,0.55)"/><circle cx="424.64" cy="264.74" r="7.3" fill="rgba(146,168,172,0.55)"/><circle cx="427.55" cy="261.09" r="6.57" fill="rgba(146,168,172,0.55)"/><circle cx="459.67" cy="229.71" r="8.03" fill="rgba(146,168,172,0.55)"/><circle cx="456.02" cy="245.04" r="7.59" fill="rgba(146,168,172,0.55)"/><circle cx="461.13" cy="214.38" r="7.3" fill="rgba(146,168,172,0.55)"/><circle cx="472.08" cy="235.55" r="5.84" fill="rgba(146,168,172,0.55)"/><circle cx="449.45" cy="224.6" r="6.57" fill="rgba(146,168,172,0.55)"/><circle cx="410.04" cy="217.3" r="5.84" fill="rgba(146,168,172,0.55)"/><circle cx="427.55" cy="239.2" r="5.84" fill="rgba(146,168,172,0.55)"/><circle cx="476.79" cy="237.23" r="7.59" fill="rgba(146,168,172,0.55)"/><circle cx="461.46" cy="243.8" r="5.84" fill="rgba(146,168,172,0.55)"/><circle cx="484.09" cy="221.9" r="8.03" fill="rgba(146,168,172,0.55)"/><circle cx="490.66" cy="216.06" r="6.57" fill="rgba(146,168,172,0.55)"/><circle cx="462.92" cy="229.2" r="7.3" fill="rgba(146,168,172,0.55)"/><circle cx="474.6" cy="227.74" r="6.57" fill="rgba(146,168,172,0.55)"/><circle cx="495.04" cy="210.22" r="5.84" fill="rgba(146,168,172,0.55)"/><circle cx="505.26" cy="201.46" r="5.84" fill="rgba(146,168,172,0.55)"/><circle cx="501.75" cy="166.28" r="6.57" fill="rgba(146,168,172,0.55)"/><circle cx="465.26" cy="204.23" r="7.3" fill="rgba(146,168,172,0.55)"/><circle cx="513.43" cy="158.98" r="8.03" fill="rgba(146,168,172,0.55)"/><circle cx="427.3" cy="210.07" r="6.57" fill="rgba(146,168,172,0.55)"/><circle cx="441.9" cy="212.99" r="6.57" fill="rgba(146,168,172,0.55)"/><circle cx="513.58" cy="149.2" r="8.03" fill="rgba(146,168,172,0.55)"/><circle cx="503.36" cy="192.99" r="7.3" fill="rgba(146,168,172,0.55)"/><circle cx="489.2" cy="174.9" r="7.3" fill="rgba(146,168,172,0.55)"/><circle cx="479" cy="185.1" r="7.3" fill="rgba(146,168,172,0.55)"/><circle cx="465.8" cy="192.4" r="7" fill="rgba(146,168,172,0.55)"/></g>
<path d="M658.5,127 L658.5,127 L658.7,127.96 L658.97,129.17 L659.29,130.62 L659.64,132.25 L660.01,134.04 L660.37,135.95 L660.71,137.95 L661,140 L661.26,142.1 L661.51,144.27 L661.75,146.55 L661.98,148.94 L662.19,151.46 L662.38,154.13 L662.55,156.97 L662.7,160 L662.81,163.41 L662.89,167.27 L662.94,171.4 L662.98,175.62 L663.01,179.78 L663.05,183.67 L663.11,187.14 L663.2,190 L663.27,192.19 L663.29,193.84 L663.29,195.08 L663.32,196.06 L663.41,196.91 L663.61,197.76 L663.96,198.74 L664.5,200 L665.27,201.51 L666.27,203.13 L667.42,204.83 L668.67,206.56 L669.97,208.29 L671.25,209.96 L672.44,211.55 L673.5,213 L674.46,214.32 L675.38,215.55 L676.27,216.71 L677.12,217.81 L677.92,218.87 L678.67,219.91 L679.37,220.95 L680,222 L680.6,223.03 L681.19,224 L681.74,224.94 L682.23,225.88 L682.63,226.82 L682.92,227.81 L683.09,228.86 L683.1,230 L682.93,231.25 L682.6,232.59 L682.14,233.99 L681.57,235.44 L680.92,236.89 L680.22,238.32 L679.51,239.7 L678.8,241 L678.07,242.23 L677.28,243.41 L676.44,244.57 L675.56,245.69 L674.67,246.79 L673.77,247.87 L672.87,248.94 L672,250 L671.13,251.05 L670.23,252.09 L669.33,253.12 L668.42,254.12 L667.54,255.12 L666.68,256.09 L665.86,257.05 L665.1,258 L664.38,258.94 L663.68,259.87 L663.01,260.79 L662.38,261.69 L661.79,262.57 L661.24,263.41 L660.74,264.23 L660.3,265 L659.92,265.75 L659.6,266.51 L659.33,267.24 L659.1,267.94 L658.91,268.58 L658.75,269.15 L658.62,269.63 L658.5,270 L658.5,270Z" fill="rgba(146,168,172,0.4)" stroke="#fff" stroke-width="0.8"/>
<path d="M658.5,126 L658.5,126 L658.69,126.84 L658.94,127.95 L659.23,129.28 L659.56,130.75 L659.91,132.32 L660.27,133.92 L660.64,135.5 L661,137 L661.34,138.46 L661.67,139.95 L662,141.47 L662.34,143 L662.71,144.53 L663.11,146.05 L663.57,147.54 L664.1,149 L664.71,150.44 L665.4,151.87 L666.15,153.29 L666.94,154.69 L667.74,156.07 L668.53,157.41 L669.29,158.73 L670,160 L670.66,161.15 L671.31,162.16 L671.94,163.08 L672.55,164 L673.15,164.98 L673.74,166.09 L674.32,167.41 L674.9,169 L675.48,170.94 L676.06,173.21 L676.64,175.7 L677.21,178.31 L677.76,180.95 L678.28,183.51 L678.76,185.89 L679.2,188 L679.65,189.82 L680.13,191.45 L680.62,192.92 L681.06,194.31 L681.41,195.66 L681.63,197.02 L681.67,198.45 L681.5,200 L681.09,201.66 L680.47,203.38 L679.69,205.15 L678.77,206.94 L677.75,208.74 L676.68,210.52 L675.58,212.28 L674.5,214 L673.35,215.68 L672.07,217.34 L670.71,218.99 L669.31,220.62 L667.94,222.24 L666.65,223.84 L665.48,225.43 L664.5,227 L663.7,228.54 L663.03,230.05 L662.47,231.53 L662,233 L661.59,234.47 L661.22,235.95 L660.86,237.46 L660.5,239 L660.14,240.67 L659.81,242.48 L659.52,244.37 L659.25,246.25 L659.02,248.03 L658.81,249.64 L658.64,250.99 L658.5,252 L658.5,252Z" fill="rgba(255,23,68,0.48)" stroke="#fff" stroke-width="0.8"/>
<g stroke="rgba(255,255,255,0.85)" stroke-width="1.0"><circle cx="468.74" cy="440.65" r="7.18" fill="rgba(20,240,188,0.62)"/><circle cx="430.09" cy="448.74" r="6.2" fill="rgba(20,240,188,0.62)"/><circle cx="437.9" cy="445.51" r="7.27" fill="rgba(20,240,188,0.62)"/><circle cx="447.38" cy="447.49" r="6.07" fill="rgba(20,240,188,0.62)"/><circle cx="455.52" cy="446.86" r="6" fill="rgba(20,240,188,0.62)"/><circle cx="464.85" cy="445.75" r="7.25" fill="rgba(20,240,188,0.62)"/><circle cx="474.04" cy="447.09" r="6.24" fill="rgba(20,240,188,0.62)"/><circle cx="479.85" cy="447.83" r="6.02" fill="rgba(20,240,188,0.62)"/><circle cx="406.52" cy="455.57" r="6.37" fill="rgba(20,240,188,0.62)"/><circle cx="415.32" cy="454.51" r="6.5" fill="rgba(20,240,188,0.62)"/><circle cx="426.98" cy="455.42" r="6.75" fill="rgba(20,240,188,0.62)"/><circle cx="435.64" cy="454.8" r="5.91" fill="rgba(20,240,188,0.62)"/><circle cx="442.46" cy="454.57" r="6.56" fill="rgba(20,240,188,0.62)"/><circle cx="451.34" cy="454.88" r="6.1" fill="rgba(20,240,188,0.62)"/><circle cx="459.27" cy="456.6" r="5.86" fill="rgba(20,240,188,0.62)"/><circle cx="466.01" cy="454.86" r="5.97" fill="rgba(20,240,188,0.62)"/><circle cx="474.94" cy="454.54" r="6.67" fill="rgba(20,240,188,0.62)"/><circle cx="484.83" cy="454.47" r="6.6" fill="rgba(20,240,188,0.62)"/><circle cx="396.54" cy="461.78" r="7.44" fill="rgba(20,240,188,0.62)"/><circle cx="402.86" cy="461.03" r="7.04" fill="rgba(20,240,188,0.62)"/><circle cx="413.32" cy="462.44" r="6.66" fill="rgba(20,240,188,0.62)"/><circle cx="422.48" cy="463.93" r="7.35" fill="rgba(20,240,188,0.62)"/><circle cx="430.62" cy="463.64" r="7.44" fill="rgba(20,240,188,0.62)"/><circle cx="439.32" cy="463.93" r="6.31" fill="rgba(20,240,188,0.62)"/><circle cx="447.43" cy="460.65" r="7.46" fill="rgba(20,240,188,0.62)"/><circle cx="454.02" cy="461.48" r="6.15" fill="rgba(20,240,188,0.62)"/><circle cx="462.58" cy="460.47" r="7.4" fill="rgba(20,240,188,0.62)"/><circle cx="472.11" cy="463.06" r="6.74" fill="rgba(20,240,188,0.62)"/><circle cx="480.44" cy="462.74" r="6.28" fill="rgba(20,240,188,0.62)"/><circle cx="488.71" cy="462.59" r="6.18" fill="rgba(20,240,188,0.62)"/><circle cx="383.44" cy="470.94" r="6.97" fill="rgba(20,240,188,0.62)"/><circle cx="389.78" cy="469.14" r="5.9" fill="rgba(20,240,188,0.62)"/><circle cx="399.02" cy="469.27" r="6.93" fill="rgba(20,240,188,0.62)"/><circle cx="407.63" cy="470.22" r="6.71" fill="rgba(20,240,188,0.62)"/><circle cx="416.05" cy="469.21" r="7.11" fill="rgba(20,240,188,0.62)"/><circle cx="425.43" cy="469.23" r="6.66" fill="rgba(20,240,188,0.62)"/><circle cx="434.76" cy="470.32" r="6.53" fill="rgba(20,240,188,0.62)"/><circle cx="443.67" cy="471.3" r="7.1" fill="rgba(20,240,188,0.62)"/><circle cx="449.26" cy="470.83" r="5.83" fill="rgba(20,240,188,0.62)"/><circle cx="458.81" cy="468.73" r="6.9" fill="rgba(20,240,188,0.62)"/><circle cx="467.13" cy="468.19" r="5.97" fill="rgba(20,240,188,0.62)"/><circle cx="477.66" cy="471.19" r="7.14" fill="rgba(20,240,188,0.62)"/><circle cx="486.8" cy="468.21" r="6.59" fill="rgba(20,240,188,0.62)"/><circle cx="389.15" cy="478.28" r="6.16" fill="rgba(20,240,188,0.62)"/><circle cx="397.14" cy="477.1" r="7.26" fill="rgba(20,240,188,0.62)"/><circle cx="405.31" cy="478.62" r="5.89" fill="rgba(20,240,188,0.62)"/><circle cx="413.52" cy="475.01" r="7.35" fill="rgba(20,240,188,0.62)"/><circle cx="420.84" cy="477.21" r="6.08" fill="rgba(20,240,188,0.62)"/><circle cx="430.17" cy="478.26" r="5.86" fill="rgba(20,240,188,0.62)"/><circle cx="439.93" cy="476.85" r="6.52" fill="rgba(20,240,188,0.62)"/><circle cx="447.06" cy="476.2" r="7.36" fill="rgba(20,240,188,0.62)"/><circle cx="456.08" cy="477.24" r="7.57" fill="rgba(20,240,188,0.62)"/><circle cx="462.45" cy="478.1" r="6.42" fill="rgba(20,240,188,0.62)"/><circle cx="472.49" cy="476.64" r="6.58" fill="rgba(20,240,188,0.62)"/><circle cx="479.36" cy="478.53" r="6.94" fill="rgba(20,240,188,0.62)"/><circle cx="391" cy="482.37" r="6.36" fill="rgba(20,240,188,0.62)"/><circle cx="401.8" cy="482.36" r="6.95" fill="rgba(20,240,188,0.62)"/><circle cx="407.94" cy="482.91" r="5.88" fill="rgba(20,240,188,0.62)"/><circle cx="417.39" cy="483.88" r="6.15" fill="rgba(20,240,188,0.62)"/><circle cx="424.15" cy="483.79" r="6.64" fill="rgba(20,240,188,0.62)"/><circle cx="435.11" cy="485.68" r="7.38" fill="rgba(20,240,188,0.62)"/><circle cx="442.83" cy="483.85" r="7.4" fill="rgba(20,240,188,0.62)"/><circle cx="450.57" cy="482.54" r="6.01" fill="rgba(20,240,188,0.62)"/><circle cx="457.93" cy="485.05" r="6.32" fill="rgba(20,240,188,0.62)"/><circle cx="468.6" cy="485.73" r="7.43" fill="rgba(20,240,188,0.62)"/><circle cx="396.52" cy="489.91" r="6.65" fill="rgba(20,240,188,0.62)"/><circle cx="404.56" cy="491.12" r="6.44" fill="rgba(20,240,188,0.62)"/><circle cx="414.63" cy="490.28" r="6.76" fill="rgba(20,240,188,0.62)"/><circle cx="419.55" cy="492.77" r="7.31" fill="rgba(20,240,188,0.62)"/><circle cx="429.1" cy="493.2" r="6.45" fill="rgba(20,240,188,0.62)"/><circle cx="438.75" cy="493.47" r="6.17" fill="rgba(20,240,188,0.62)"/><circle cx="445.91" cy="492.81" r="6.24" fill="rgba(20,240,188,0.62)"/><circle cx="455.71" cy="491.87" r="6.79" fill="rgba(20,240,188,0.62)"/><circle cx="461.87" cy="489.55" r="5.9" fill="rgba(20,240,188,0.62)"/><circle cx="393.11" cy="499.09" r="6.48" fill="rgba(20,240,188,0.62)"/><circle cx="399.84" cy="498.23" r="6.93" fill="rgba(20,240,188,0.62)"/><circle cx="408.46" cy="499.73" r="5.93" fill="rgba(20,240,188,0.62)"/><circle cx="416.06" cy="497.59" r="6.08" fill="rgba(20,240,188,0.62)"/><circle cx="423.81" cy="498.99" r="5.99" fill="rgba(20,240,188,0.62)"/><circle cx="432.48" cy="499.71" r="7.26" fill="rgba(20,240,188,0.62)"/><circle cx="442.8" cy="499.43" r="6.57" fill="rgba(20,240,188,0.62)"/><circle cx="396.43" cy="504.71" r="7.33" fill="rgba(20,240,188,0.62)"/><circle cx="402.95" cy="506.75" r="6.9" fill="rgba(20,240,188,0.62)"/><circle cx="412.56" cy="507.85" r="7.19" fill="rgba(20,240,188,0.62)"/><circle cx="420.6" cy="506.93" r="6.68" fill="rgba(20,240,188,0.62)"/><circle cx="429.31" cy="506.13" r="6.18" fill="rgba(20,240,188,0.62)"/><circle cx="539.93" cy="406.86" r="6.91" fill="rgba(20,240,188,0.62)"/><circle cx="518.74" cy="414.34" r="7.07" fill="rgba(20,240,188,0.62)"/><circle cx="524.51" cy="411.28" r="5.93" fill="rgba(20,240,188,0.62)"/><circle cx="534.82" cy="411.96" r="6.5" fill="rgba(20,240,188,0.62)"/><circle cx="544.08" cy="413.75" r="6.18" fill="rgba(20,240,188,0.62)"/><circle cx="552.39" cy="412.24" r="6.52" fill="rgba(20,240,188,0.62)"/><circle cx="557.54" cy="412.88" r="6.29" fill="rgba(20,240,188,0.62)"/><circle cx="493.9" cy="417.96" r="6.12" fill="rgba(20,240,188,0.62)"/><circle cx="504.24" cy="419.51" r="7.12" fill="rgba(20,240,188,0.62)"/><circle cx="511.02" cy="420.3" r="6.56" fill="rgba(20,240,188,0.62)"/><circle cx="519.85" cy="418.8" r="7.25" fill="rgba(20,240,188,0.62)"/><circle cx="528.72" cy="421.26" r="6.51" fill="rgba(20,240,188,0.62)"/><circle cx="539.42" cy="420.29" r="7.58" fill="rgba(20,240,188,0.62)"/><circle cx="545.35" cy="418.76" r="6.39" fill="rgba(20,240,188,0.62)"/><circle cx="554.19" cy="418.02" r="6.85" fill="rgba(20,240,188,0.62)"/><circle cx="562.47" cy="420.13" r="6.62" fill="rgba(20,240,188,0.62)"/><circle cx="476.09" cy="427.02" r="7.36" fill="rgba(20,240,188,0.62)"/><circle cx="481.48" cy="425.7" r="7.27" fill="rgba(20,240,188,0.62)"/><circle cx="490.25" cy="425.84" r="7.49" fill="rgba(20,240,188,0.62)"/><circle cx="498.54" cy="428.88" r="6.89" fill="rgba(20,240,188,0.62)"/><circle cx="507.94" cy="425.5" r="7.53" fill="rgba(20,240,188,0.62)"/><circle cx="515.7" cy="427.9" r="7.28" fill="rgba(20,240,188,0.62)"/><circle cx="525.64" cy="426.26" r="7.1" fill="rgba(20,240,188,0.62)"/><circle cx="532.03" cy="426" r="7.33" fill="rgba(20,240,188,0.62)"/><circle cx="542.71" cy="426.2" r="6.17" fill="rgba(20,240,188,0.62)"/><circle cx="548.82" cy="426.16" r="5.91" fill="rgba(20,240,188,0.62)"/><circle cx="557.96" cy="426.56" r="6.04" fill="rgba(20,240,188,0.62)"/><circle cx="480.42" cy="435.07" r="6.85" fill="rgba(20,240,188,0.62)"/><circle cx="485.56" cy="432.58" r="7.44" fill="rgba(20,240,188,0.62)"/><circle cx="496.3" cy="436.3" r="6.95" fill="rgba(20,240,188,0.62)"/><circle cx="503.93" cy="435.37" r="7.6" fill="rgba(20,240,188,0.62)"/><circle cx="510.8" cy="434.63" r="7.42" fill="rgba(20,240,188,0.62)"/><circle cx="521.95" cy="435.26" r="7.45" fill="rgba(20,240,188,0.62)"/><circle cx="528.91" cy="435.18" r="7.37" fill="rgba(20,240,188,0.62)"/><circle cx="537.67" cy="435.61" r="6.83" fill="rgba(20,240,188,0.62)"/><circle cx="547" cy="433.97" r="6.9" fill="rgba(20,240,188,0.62)"/><circle cx="553.32" cy="435" r="7.38" fill="rgba(20,240,188,0.62)"/><circle cx="475.19" cy="442.13" r="7.31" fill="rgba(20,240,188,0.62)"/><circle cx="481.09" cy="442.81" r="6.88" fill="rgba(20,240,188,0.62)"/><circle cx="491.17" cy="440.73" r="6.7" fill="rgba(20,240,188,0.62)"/><circle cx="500.21" cy="443.49" r="5.82" fill="rgba(20,240,188,0.62)"/><circle cx="507.45" cy="442.52" r="6.11" fill="rgba(20,240,188,0.62)"/><circle cx="518.37" cy="442.44" r="7.41" fill="rgba(20,240,188,0.62)"/><circle cx="524.56" cy="442.47" r="6.58" fill="rgba(20,240,188,0.62)"/><circle cx="534.97" cy="443.46" r="6.49" fill="rgba(20,240,188,0.62)"/><circle cx="542.58" cy="441.07" r="6.69" fill="rgba(20,240,188,0.62)"/><circle cx="552.1" cy="443.2" r="7.51" fill="rgba(20,240,188,0.62)"/><circle cx="477.36" cy="448.82" r="6.69" fill="rgba(20,240,188,0.62)"/><circle cx="486.26" cy="450.52" r="6.61" fill="rgba(20,240,188,0.62)"/><circle cx="493.8" cy="447.29" r="5.87" fill="rgba(20,240,188,0.62)"/><circle cx="504.83" cy="449.45" r="7.22" fill="rgba(20,240,188,0.62)"/><circle cx="510.58" cy="447.71" r="5.84" fill="rgba(20,240,188,0.62)"/><circle cx="522.32" cy="448.12" r="5.88" fill="rgba(20,240,188,0.62)"/><circle cx="530.02" cy="448.95" r="6.98" fill="rgba(20,240,188,0.62)"/><circle cx="555.64" cy="417.62" r="6.13" fill="rgba(20,240,188,0.62)"/><circle cx="548.67" cy="415.84" r="5.74" fill="rgba(20,240,188,0.62)"/><circle cx="552.9" cy="416.37" r="6.18" fill="rgba(20,240,188,0.62)"/><circle cx="479.89" cy="435.56" r="5.28" fill="rgba(20,240,188,0.62)"/><circle cx="486.86" cy="446.91" r="5.03" fill="rgba(20,240,188,0.62)"/><circle cx="465.89" cy="442.74" r="5.47" fill="rgba(20,240,188,0.62)"/><circle cx="490.15" cy="436.19" r="5.65" fill="rgba(20,240,188,0.62)"/><circle cx="553.42" cy="426.65" r="6.47" fill="rgba(20,240,188,0.62)"/><circle cx="482.13" cy="438.74" r="5.18" fill="rgba(20,240,188,0.62)"/><circle cx="462.58" cy="439.02" r="5.8" fill="rgba(20,240,188,0.62)"/><circle cx="439.96" cy="433.14" r="7.3" fill="rgba(20,240,188,0.62)"/><circle cx="425.36" cy="447.01" r="5.84" fill="rgba(20,240,188,0.62)"/><circle cx="436.31" cy="447.74" r="6.57" fill="rgba(20,240,188,0.62)"/><circle cx="404.2" cy="463.8" r="7.3" fill="rgba(20,240,188,0.62)"/><circle cx="389.6" cy="469.64" r="6.57" fill="rgba(20,240,188,0.62)"/><circle cx="386.68" cy="472.55" r="5.84" fill="rgba(20,240,188,0.62)"/><circle cx="443.61" cy="459.42" r="5.84" fill="rgba(20,240,188,0.62)"/><circle cx="456.75" cy="443.36" r="6.57" fill="rgba(20,240,188,0.62)"/><circle cx="468.43" cy="449.2" r="5.84" fill="rgba(20,240,188,0.62)"/><circle cx="471.35" cy="490.07" r="5.84" fill="rgba(20,240,188,0.62)"/><circle cx="440.69" cy="485.69" r="4.38" fill="rgba(20,240,188,0.62)"/><circle cx="422.01" cy="428.76" r="7.3" fill="rgba(20,240,188,0.62)"/><circle cx="609.12" cy="338.25" r="7.3" fill="rgba(20,240,188,0.62)"/><circle cx="610.58" cy="341.17" r="6.57" fill="rgba(20,240,188,0.62)"/><circle cx="621.53" cy="348.47" r="6.57" fill="rgba(20,240,188,0.62)"/><circle cx="597.45" cy="371.09" r="7.3" fill="rgba(20,240,188,0.62)"/><circle cx="611.31" cy="371.82" r="7.3" fill="rgba(20,240,188,0.62)"/><circle cx="616.42" cy="379.85" r="7.3" fill="rgba(20,240,188,0.62)"/><circle cx="604.74" cy="390.07" r="8.03" fill="rgba(20,240,188,0.62)"/><circle cx="602.55" cy="378.39" r="6.57" fill="rgba(20,240,188,0.62)"/><circle cx="593.8" cy="388.61" r="5.84" fill="rgba(20,240,188,0.62)"/><circle cx="560.22" cy="395.91" r="5.11" fill="rgba(20,240,188,0.62)"/><circle cx="571.9" cy="397.37" r="6.57" fill="rgba(20,240,188,0.62)"/><circle cx="597.45" cy="407.52" r="7.59" fill="rgba(20,240,188,0.62)"/><circle cx="596.72" cy="416.28" r="6.57" fill="rgba(20,240,188,0.62)"/><circle cx="604.01" cy="415.55" r="7.3" fill="rgba(20,240,188,0.62)"/><circle cx="611.31" cy="422.85" r="7.59" fill="rgba(20,240,188,0.62)"/><circle cx="622.26" cy="438.91" r="7.59" fill="rgba(20,240,188,0.62)"/><circle cx="621.53" cy="452.77" r="7.59" fill="rgba(20,240,188,0.62)"/><circle cx="567.52" cy="413.36" r="7.59" fill="rgba(20,240,188,0.62)"/><circle cx="558.76" cy="417.74" r="6.57" fill="rgba(20,240,188,0.62)"/><circle cx="551.46" cy="413.36" r="6.57" fill="rgba(20,240,188,0.62)"/><circle cx="563.87" cy="442.55" r="7.59" fill="rgba(20,240,188,0.62)"/><circle cx="551.46" cy="449.85" r="6.57" fill="rgba(20,240,188,0.62)"/><circle cx="554.38" cy="430.88" r="7.3" fill="rgba(20,240,188,0.62)"/><circle cx="546.13" cy="382.41" r="6.57" fill="rgba(20,240,188,0.62)"/><circle cx="511.09" cy="391.9" r="5.84" fill="rgba(20,240,188,0.62)"/><circle cx="536.64" cy="397.74" r="7.3" fill="rgba(20,240,188,0.62)"/><circle cx="547.59" cy="412.34" r="7.3" fill="rgba(20,240,188,0.62)"/><circle cx="556.35" cy="415.26" r="6.57" fill="rgba(20,240,188,0.62)"/><circle cx="521.31" cy="428.39" r="7.3" fill="rgba(20,240,188,0.62)"/><circle cx="531.53" cy="432.77" r="8.03" fill="rgba(20,240,188,0.62)"/><circle cx="528.61" cy="438.61" r="6.57" fill="rgba(20,240,188,0.62)"/><circle cx="541.75" cy="442.99" r="7.3" fill="rgba(20,240,188,0.62)"/><circle cx="550.51" cy="432.77" r="6.57" fill="rgba(20,240,188,0.62)"/><circle cx="476.06" cy="426.93" r="3.65" fill="rgba(20,240,188,0.62)"/><circle cx="477.52" cy="437.15" r="5.84" fill="rgba(20,240,188,0.62)"/><circle cx="489.2" cy="418.18" r="5.84" fill="rgba(20,240,188,0.62)"/><circle cx="499.42" cy="438.61" r="7.3" fill="rgba(20,240,188,0.62)"/><circle cx="503.8" cy="432.77" r="5.84" fill="rgba(20,240,188,0.62)"/><circle cx="511.09" cy="425.47" r="5.84" fill="rgba(20,240,188,0.62)"/><circle cx="487.74" cy="444.45" r="5.84" fill="rgba(20,240,188,0.62)"/><circle cx="468.76" cy="442.99" r="5.84" fill="rgba(20,240,188,0.62)"/><circle cx="486.28" cy="437.15" r="5.84" fill="rgba(20,240,188,0.62)"/><circle cx="554.89" cy="424.01" r="6.57" fill="rgba(20,240,188,0.62)"/><circle cx="486.28" cy="449.49" r="7.3" fill="rgba(20,240,188,0.62)"/><circle cx="502.34" cy="451.68" r="7.3" fill="rgba(20,240,188,0.62)"/><circle cx="498.69" cy="472.12" r="7.3" fill="rgba(20,240,188,0.62)"/><circle cx="541.02" cy="450.22" r="7.3" fill="rgba(20,240,188,0.62)"/><circle cx="527.15" cy="442.92" r="5.84" fill="rgba(20,240,188,0.62)"/><circle cx="474.6" cy="469.2" r="5.11" fill="rgba(20,240,188,0.62)"/><circle cx="465.84" cy="489.64" r="4.38" fill="rgba(20,240,188,0.62)"/><circle cx="489.2" cy="476.5" r="6.57" fill="rgba(20,240,188,0.62)"/><circle cx="411.5" cy="514.01" r="6.57" fill="rgba(20,240,188,0.62)"/><circle cx="426.09" cy="505.26" r="5.84" fill="rgba(20,240,188,0.62)"/><circle cx="443.61" cy="462.92" r="5.11" fill="rgba(20,240,188,0.62)"/><circle cx="481.75" cy="435.04" r="5.84" fill="rgba(20,240,188,0.62)"/><circle cx="491.97" cy="420.44" r="6.57" fill="rgba(20,240,188,0.62)"/><circle cx="446.72" cy="445.26" r="5.84" fill="rgba(20,240,188,0.62)"/><circle cx="472.99" cy="464.23" r="4.38" fill="rgba(20,240,188,0.62)"/><circle cx="465.69" cy="437.96" r="5.84" fill="rgba(20,240,188,0.62)"/><circle cx="439.16" cy="465.39" r="7.77" fill="rgba(146,168,172,0.55)"/><circle cx="412.5" cy="469.02" r="7.23" fill="rgba(146,168,172,0.55)"/><circle cx="420.67" cy="470.44" r="7.13" fill="rgba(146,168,172,0.55)"/><circle cx="428.42" cy="470.25" r="7.91" fill="rgba(146,168,172,0.55)"/><circle cx="437.58" cy="472.01" r="8.35" fill="rgba(146,168,172,0.55)"/><circle cx="444.48" cy="472.15" r="8.11" fill="rgba(146,168,172,0.55)"/><circle cx="451.2" cy="470.88" r="6.95" fill="rgba(146,168,172,0.55)"/><circle cx="460.37" cy="470.67" r="6.81" fill="rgba(146,168,172,0.55)"/><circle cx="392.52" cy="478.91" r="7.96" fill="rgba(146,168,172,0.55)"/><circle cx="397.79" cy="476.25" r="7.19" fill="rgba(146,168,172,0.55)"/><circle cx="405.73" cy="477.77" r="6.93" fill="rgba(146,168,172,0.55)"/><circle cx="414.75" cy="479.41" r="7.54" fill="rgba(146,168,172,0.55)"/><circle cx="423.67" cy="478.99" r="7.44" fill="rgba(146,168,172,0.55)"/><circle cx="431.65" cy="478.8" r="7.51" fill="rgba(146,168,172,0.55)"/><circle cx="440.96" cy="475.74" r="7.35" fill="rgba(146,168,172,0.55)"/><circle cx="449.18" cy="477.78" r="7.28" fill="rgba(146,168,172,0.55)"/><circle cx="456.52" cy="479.41" r="6.94" fill="rgba(146,168,172,0.55)"/><circle cx="463.64" cy="475.9" r="7.3" fill="rgba(146,168,172,0.55)"/><circle cx="388.05" cy="486.64" r="7.6" fill="rgba(146,168,172,0.55)"/><circle cx="394.26" cy="486.4" r="7.92" fill="rgba(146,168,172,0.55)"/><circle cx="401.61" cy="484.78" r="7.66" fill="rgba(146,168,172,0.55)"/><circle cx="410.59" cy="482.91" r="8.12" fill="rgba(146,168,172,0.55)"/><circle cx="419.24" cy="484.32" r="7.65" fill="rgba(146,168,172,0.55)"/><circle cx="429.36" cy="484.73" r="6.98" fill="rgba(146,168,172,0.55)"/><circle cx="437.7" cy="485.65" r="7.62" fill="rgba(146,168,172,0.55)"/><circle cx="442.99" cy="485.04" r="7.28" fill="rgba(146,168,172,0.55)"/><circle cx="452.64" cy="484.67" r="7.86" fill="rgba(146,168,172,0.55)"/><circle cx="459.89" cy="485.93" r="7.72" fill="rgba(146,168,172,0.55)"/><circle cx="470.94" cy="483.8" r="6.88" fill="rgba(146,168,172,0.55)"/><circle cx="389.66" cy="491.01" r="6.8" fill="rgba(146,168,172,0.55)"/><circle cx="398.53" cy="493.6" r="7.87" fill="rgba(146,168,172,0.55)"/><circle cx="409.46" cy="491.85" r="8.23" fill="rgba(146,168,172,0.55)"/><circle cx="415.9" cy="491.88" r="8.3" fill="rgba(146,168,172,0.55)"/><circle cx="423.34" cy="490.69" r="8.05" fill="rgba(146,168,172,0.55)"/><circle cx="431.35" cy="492.6" r="8.31" fill="rgba(146,168,172,0.55)"/><circle cx="441.66" cy="493.71" r="6.86" fill="rgba(146,168,172,0.55)"/><circle cx="446.72" cy="490.69" r="7.03" fill="rgba(146,168,172,0.55)"/><circle cx="457.62" cy="491.67" r="7.6" fill="rgba(146,168,172,0.55)"/><circle cx="386.65" cy="497.24" r="8.23" fill="rgba(146,168,172,0.55)"/><circle cx="394.74" cy="499.5" r="7.4" fill="rgba(146,168,172,0.55)"/><circle cx="403.88" cy="498.7" r="7.57" fill="rgba(146,168,172,0.55)"/><circle cx="410.69" cy="499.51" r="7.68" fill="rgba(146,168,172,0.55)"/><circle cx="421.35" cy="500.17" r="8.37" fill="rgba(146,168,172,0.55)"/><circle cx="428.76" cy="499.14" r="8.09" fill="rgba(146,168,172,0.55)"/><circle cx="435.5" cy="499.68" r="7.7" fill="rgba(146,168,172,0.55)"/><circle cx="444.92" cy="499.12" r="6.86" fill="rgba(146,168,172,0.55)"/><circle cx="400.04" cy="507.32" r="8.22" fill="rgba(146,168,172,0.55)"/><circle cx="407.32" cy="506" r="7.14" fill="rgba(146,168,172,0.55)"/><circle cx="416.32" cy="507.16" r="8.11" fill="rgba(146,168,172,0.55)"/><circle cx="424.62" cy="504.23" r="8.39" fill="rgba(146,168,172,0.55)"/><circle cx="432.28" cy="504.12" r="7.39" fill="rgba(146,168,172,0.55)"/><circle cx="429.74" cy="514.23" r="7.4" fill="rgba(146,168,172,0.55)"/><circle cx="454.51" cy="418.91" r="7.1" fill="rgba(146,168,172,0.55)"/><circle cx="485.07" cy="418.44" r="7.32" fill="rgba(146,168,172,0.55)"/><circle cx="502.9" cy="417.45" r="6.06" fill="rgba(146,168,172,0.55)"/><circle cx="450.35" cy="424.54" r="6.88" fill="rgba(146,168,172,0.55)"/><circle cx="522.04" cy="424.68" r="7" fill="rgba(146,168,172,0.55)"/><circle cx="458.64" cy="437.53" r="7.21" fill="rgba(146,168,172,0.55)"/><circle cx="430.56" cy="445.99" r="5.88" fill="rgba(146,168,172,0.55)"/><circle cx="454.52" cy="445.34" r="7.1" fill="rgba(146,168,172,0.55)"/><circle cx="456.23" cy="450.05" r="7.37" fill="rgba(146,168,172,0.55)"/><circle cx="438.66" cy="460.3" r="7.29" fill="rgba(146,168,172,0.55)"/><circle cx="433.52" cy="464.35" r="7.3" fill="rgba(146,168,172,0.55)"/><circle cx="470.25" cy="473.86" r="6.93" fill="rgba(146,168,172,0.55)"/><circle cx="441.94" cy="478.77" r="6.86" fill="rgba(146,168,172,0.55)"/><circle cx="412.03" cy="486.44" r="6.82" fill="rgba(146,168,172,0.55)"/><circle cx="422.01" cy="427.48" r="7.59" fill="rgba(146,168,172,0.55)"/><circle cx="403.76" cy="443.24" r="7.59" fill="rgba(146,168,172,0.55)"/><circle cx="413.25" cy="448.21" r="7.59" fill="rgba(146,168,172,0.55)"/><circle cx="450.91" cy="434.78" r="6.57" fill="rgba(146,168,172,0.55)"/><circle cx="462.59" cy="428.94" r="7.59" fill="rgba(146,168,172,0.55)"/><circle cx="466.97" cy="438.43" r="7.3" fill="rgba(146,168,172,0.55)"/><circle cx="437.77" cy="449.38" r="7.59" fill="rgba(146,168,172,0.55)"/><circle cx="450.91" cy="453.76" r="7.3" fill="rgba(146,168,172,0.55)"/><circle cx="464.05" cy="461.05" r="7.59" fill="rgba(146,168,172,0.55)"/><circle cx="440.69" cy="469.81" r="8.03" fill="rgba(146,168,172,0.55)"/><circle cx="427.55" cy="466.89" r="7.59" fill="rgba(146,168,172,0.55)"/><circle cx="417.34" cy="466.89" r="7.59" fill="rgba(146,168,172,0.55)"/><circle cx="404.2" cy="477.11" r="8.03" fill="rgba(146,168,172,0.55)"/><circle cx="392.52" cy="478.57" r="7.3" fill="rgba(146,168,172,0.55)"/><circle cx="386.68" cy="485.87" r="7.3" fill="rgba(146,168,172,0.55)"/><circle cx="423.18" cy="478.57" r="7.59" fill="rgba(146,168,172,0.55)"/><circle cx="437.77" cy="482.95" r="7.59" fill="rgba(146,168,172,0.55)"/><circle cx="459.67" cy="480.03" r="7.59" fill="rgba(146,168,172,0.55)"/><circle cx="456.75" cy="468.35" r="7.59" fill="rgba(146,168,172,0.55)"/><circle cx="471.35" cy="475.65" r="7.59" fill="rgba(146,168,172,0.55)"/><circle cx="468.43" cy="485.87" r="7.59" fill="rgba(146,168,172,0.55)"/><circle cx="411.5" cy="485.87" r="7.59" fill="rgba(146,168,172,0.55)"/><circle cx="549.56" cy="434.78" r="7.59" fill="rgba(146,168,172,0.55)"/><circle cx="537.15" cy="416.53" r="7.59" fill="rgba(146,168,172,0.55)"/><circle cx="518.18" cy="414.34" r="7.59" fill="rgba(146,168,172,0.55)"/><circle cx="494.82" cy="417.26" r="8.03" fill="rgba(146,168,172,0.55)"/><circle cx="503.58" cy="424.56" r="6.57" fill="rgba(146,168,172,0.55)"/><circle cx="486.06" cy="436.97" r="7.3" fill="rgba(146,168,172,0.55)"/><circle cx="503.58" cy="450.84" r="8.03" fill="rgba(146,168,172,0.55)"/><circle cx="491.9" cy="462.51" r="7.3" fill="rgba(146,168,172,0.55)"/><circle cx="486.06" cy="471.27" r="8.03" fill="rgba(146,168,172,0.55)"/><circle cx="475.84" cy="459.59" r="8.03" fill="rgba(146,168,172,0.55)"/><circle cx="474.38" cy="485.87" r="7.3" fill="rgba(146,168,172,0.55)"/><circle cx="470" cy="437.7" r="6.57" fill="rgba(146,168,172,0.55)"/><circle cx="529.85" cy="411.42" r="5.84" fill="rgba(146,168,172,0.55)"/><circle cx="522.26" cy="361.53" r="6.13" fill="rgba(146,168,172,0.55)"/><circle cx="472.19" cy="383.86" r="7.59" fill="rgba(146,168,172,0.55)"/><circle cx="519.64" cy="394.81" r="8.03" fill="rgba(146,168,172,0.55)"/><circle cx="526.93" cy="397.73" r="5.84" fill="rgba(146,168,172,0.55)"/><circle cx="509.42" cy="403.57" r="5.84" fill="rgba(146,168,172,0.55)"/><circle cx="531.31" cy="406.49" r="5.84" fill="rgba(146,168,172,0.55)"/><circle cx="557.59" cy="384.59" r="7.3" fill="rgba(146,168,172,0.55)"/><circle cx="566.35" cy="383.14" r="6.57" fill="rgba(146,168,172,0.55)"/><circle cx="564.89" cy="394.81" r="6.57" fill="rgba(146,168,172,0.55)"/><circle cx="518.18" cy="409.41" r="5.84" fill="rgba(146,168,172,0.55)"/><circle cx="587.96" cy="383.86" r="7.3" fill="rgba(146,168,172,0.55)"/><circle cx="576.28" cy="388.24" r="7.01" fill="rgba(146,168,172,0.55)"/><circle cx="571.9" cy="394.81" r="7.3" fill="rgba(146,168,172,0.55)"/><circle cx="385.22" cy="507.3" r="7.59" fill="rgba(146,168,172,0.55)"/><circle cx="394.71" cy="508.76" r="8.03" fill="rgba(146,168,172,0.55)"/><circle cx="394.71" cy="493.43" r="8.03" fill="rgba(146,168,172,0.55)"/><circle cx="404.2" cy="482.48" r="8.03" fill="rgba(146,168,172,0.55)"/><circle cx="413.69" cy="494.16" r="8.03" fill="rgba(146,168,172,0.55)"/><circle cx="406.39" cy="505.11" r="5.84" fill="rgba(146,168,172,0.55)"/><circle cx="414.42" cy="501.46" r="6.57" fill="rgba(146,168,172,0.55)"/><circle cx="422.45" cy="482.48" r="8.03" fill="rgba(146,168,172,0.55)"/><circle cx="418.8" cy="470.07" r="6.57" fill="rgba(146,168,172,0.55)"/><circle cx="430.47" cy="469.34" r="7.3" fill="rgba(146,168,172,0.55)"/><circle cx="438.5" cy="488.32" r="8.03" fill="rgba(146,168,172,0.55)"/><circle cx="440.69" cy="497.81" r="7.3" fill="rgba(146,168,172,0.55)"/><circle cx="426.09" cy="510.22" r="7.59" fill="rgba(146,168,172,0.55)"/><circle cx="424.64" cy="518.24" r="7.3" fill="rgba(146,168,172,0.55)"/><circle cx="427.55" cy="514.59" r="6.57" fill="rgba(146,168,172,0.55)"/><circle cx="459.67" cy="483.21" r="8.03" fill="rgba(146,168,172,0.55)"/><circle cx="456.02" cy="498.54" r="7.59" fill="rgba(146,168,172,0.55)"/><circle cx="461.13" cy="467.88" r="7.3" fill="rgba(146,168,172,0.55)"/><circle cx="472.08" cy="489.05" r="5.84" fill="rgba(146,168,172,0.55)"/><circle cx="449.45" cy="478.1" r="6.57" fill="rgba(146,168,172,0.55)"/><circle cx="410.04" cy="470.8" r="5.84" fill="rgba(146,168,172,0.55)"/><circle cx="427.55" cy="492.7" r="5.84" fill="rgba(146,168,172,0.55)"/><circle cx="476.79" cy="490.73" r="7.59" fill="rgba(146,168,172,0.55)"/><circle cx="461.46" cy="497.3" r="5.84" fill="rgba(146,168,172,0.55)"/><circle cx="484.09" cy="475.4" r="8.03" fill="rgba(146,168,172,0.55)"/><circle cx="490.66" cy="469.56" r="6.57" fill="rgba(146,168,172,0.55)"/><circle cx="462.92" cy="482.7" r="7.3" fill="rgba(146,168,172,0.55)"/><circle cx="474.6" cy="481.24" r="6.57" fill="rgba(146,168,172,0.55)"/><circle cx="495.04" cy="463.72" r="5.84" fill="rgba(146,168,172,0.55)"/><circle cx="505.26" cy="454.96" r="5.84" fill="rgba(146,168,172,0.55)"/><circle cx="501.75" cy="419.78" r="6.57" fill="rgba(146,168,172,0.55)"/><circle cx="465.26" cy="457.73" r="7.3" fill="rgba(146,168,172,0.55)"/><circle cx="513.43" cy="412.48" r="8.03" fill="rgba(146,168,172,0.55)"/><circle cx="427.3" cy="463.57" r="6.57" fill="rgba(146,168,172,0.55)"/><circle cx="441.9" cy="466.49" r="6.57" fill="rgba(146,168,172,0.55)"/><circle cx="513.58" cy="402.7" r="8.03" fill="rgba(146,168,172,0.55)"/><circle cx="503.36" cy="446.49" r="7.3" fill="rgba(146,168,172,0.55)"/><circle cx="489.2" cy="428.4" r="7.3" fill="rgba(146,168,172,0.55)"/><circle cx="479" cy="438.6" r="7.3" fill="rgba(146,168,172,0.55)"/><circle cx="465.8" cy="445.9" r="7" fill="rgba(146,168,172,0.55)"/></g>
<path d="M658.5,335 L658.5,335 L658.74,337.73 L659.07,341.41 L659.47,345.78 L659.91,350.62 L660.35,355.7 L660.79,360.78 L661.18,365.62 L661.5,370 L661.77,373.99 L662,377.85 L662.21,381.62 L662.4,385.31 L662.57,388.97 L662.72,392.62 L662.87,396.28 L663,400 L663.11,403.83 L663.18,407.78 L663.23,411.78 L663.27,415.75 L663.32,419.63 L663.38,423.34 L663.47,426.82 L663.6,430 L663.76,432.88 L663.93,435.53 L664.11,437.98 L664.32,440.25 L664.55,442.36 L664.83,444.34 L665.14,446.21 L665.5,448 L665.91,449.62 L666.35,451.02 L666.83,452.25 L667.35,453.38 L667.91,454.46 L668.5,455.55 L669.13,456.71 L669.8,458 L670.52,459.39 L671.31,460.81 L672.14,462.27 L673,463.75 L673.88,465.27 L674.77,466.81 L675.65,468.39 L676.5,470 L677.41,471.68 L678.42,473.45 L679.47,475.28 L680.5,477.12 L681.45,478.96 L682.26,480.73 L682.86,482.43 L683.2,484 L683.26,485.46 L683.09,486.85 L682.73,488.17 L682.23,489.44 L681.61,490.65 L680.92,491.8 L680.21,492.92 L679.5,494 L678.75,495.02 L677.9,495.96 L676.97,496.84 L676,497.69 L675.01,498.51 L674.02,499.32 L673.08,500.15 L672.2,501 L671.37,501.87 L670.56,502.73 L669.77,503.58 L669,504.44 L668.25,505.3 L667.51,506.18 L666.8,507.08 L666.1,508 L665.42,508.97 L664.74,509.98 L664.08,511.01 L663.44,512.06 L662.82,513.1 L662.24,514.12 L661.7,515.09 L661.2,516 L660.74,516.89 L660.31,517.78 L659.91,518.66 L659.54,519.5 L659.22,520.28 L658.93,520.97 L658.69,521.55 L658.5,522 L658.5,522Z" fill="rgba(146,168,172,0.4)" stroke="#fff" stroke-width="0.8"/>
<path d="M658.5,333 L658.5,333 L658.55,335.55 L658.6,339.03 L658.66,343.18 L658.74,347.75 L658.83,352.47 L658.93,357.09 L659.06,361.36 L659.2,365 L659.36,368.09 L659.55,370.89 L659.75,373.47 L659.96,375.88 L660.2,378.17 L660.45,380.42 L660.71,382.68 L661,385 L661.29,387.37 L661.58,389.71 L661.89,392.03 L662.21,394.31 L662.57,396.56 L662.96,398.76 L663.4,400.91 L663.9,403 L664.49,405.03 L665.18,406.98 L665.93,408.89 L666.71,410.75 L667.49,412.58 L668.24,414.39 L668.92,416.19 L669.5,418 L669.99,419.83 L670.44,421.66 L670.84,423.5 L671.2,425.31 L671.51,427.09 L671.78,428.8 L672.01,430.45 L672.2,432 L672.31,433.43 L672.33,434.73 L672.29,435.96 L672.21,437.12 L672.14,438.28 L672.09,439.45 L672.1,440.68 L672.2,442 L672.4,443.4 L672.67,444.84 L672.99,446.31 L673.34,447.81 L673.7,449.34 L674.07,450.88 L674.4,452.44 L674.7,454 L674.99,455.61 L675.3,457.3 L675.62,459.02 L675.91,460.75 L676.17,462.45 L676.37,464.08 L676.49,465.61 L676.5,467 L676.4,468.24 L676.22,469.35 L675.95,470.37 L675.62,471.31 L675.25,472.22 L674.85,473.12 L674.42,474.03 L674,475 L673.57,475.97 L673.12,476.91 L672.64,477.82 L672.14,478.75 L671.6,479.71 L671.04,480.72 L670.44,481.81 L669.8,483 L669.09,484.32 L668.31,485.74 L667.47,487.25 L666.61,488.81 L665.75,490.4 L664.93,491.98 L664.17,493.52 L663.5,495 L662.91,496.43 L662.38,497.84 L661.89,499.24 L661.45,500.62 L661.04,501.99 L660.67,503.34 L660.32,504.68 L660,506 L659.71,507.37 L659.45,508.8 L659.23,510.26 L659.03,511.69 L658.86,513.03 L658.72,514.23 L658.6,515.24 L658.5,516 L658.5,516Z" fill="rgba(20,240,188,0.48)" stroke="#fff" stroke-width="0.8"/>
<g stroke="rgba(255,255,255,0.85)" stroke-width="1.0"><circle cx="468.63" cy="708.03" r="6.11" fill="rgba(66,5,244,0.62)"/><circle cx="446.18" cy="715.51" r="7.5" fill="rgba(66,5,244,0.62)"/><circle cx="466.92" cy="714.42" r="6.47" fill="rgba(66,5,244,0.62)"/><circle cx="485.05" cy="715.84" r="6.4" fill="rgba(66,5,244,0.62)"/><circle cx="433.57" cy="724.46" r="7.32" fill="rgba(66,5,244,0.62)"/><circle cx="453.4" cy="723.48" r="6.06" fill="rgba(66,5,244,0.62)"/><circle cx="480.85" cy="722.35" r="6.82" fill="rgba(66,5,244,0.62)"/><circle cx="448.72" cy="732.29" r="5.87" fill="rgba(66,5,244,0.62)"/><circle cx="398.54" cy="739.37" r="7" fill="rgba(66,5,244,0.62)"/><circle cx="423.88" cy="737.14" r="6.03" fill="rgba(66,5,244,0.62)"/><circle cx="470.18" cy="737.23" r="6.84" fill="rgba(66,5,244,0.62)"/><circle cx="392.81" cy="745.82" r="7.23" fill="rgba(66,5,244,0.62)"/><circle cx="431.99" cy="746.9" r="6.57" fill="rgba(66,5,244,0.62)"/><circle cx="399.14" cy="753.95" r="7.21" fill="rgba(66,5,244,0.62)"/><circle cx="421.92" cy="760.38" r="6.01" fill="rgba(66,5,244,0.62)"/><circle cx="532.26" cy="613.87" r="8.03" fill="rgba(66,5,244,0.62)"/><circle cx="491.39" cy="638.69" r="8.03" fill="rgba(66,5,244,0.62)"/><circle cx="486.28" cy="649.64" r="7.3" fill="rgba(66,5,244,0.62)"/><circle cx="476.79" cy="654.74" r="7.3" fill="rgba(66,5,244,0.62)"/><circle cx="460" cy="653.28" r="4.38" fill="rgba(66,5,244,0.62)"/><circle cx="518.39" cy="628.47" r="6.57" fill="rgba(66,5,244,0.62)"/><circle cx="525.69" cy="630.66" r="6.57" fill="rgba(66,5,244,0.62)"/><circle cx="531.53" cy="632.12" r="6.57" fill="rgba(66,5,244,0.62)"/><circle cx="541.02" cy="632.12" r="7.3" fill="rgba(66,5,244,0.62)"/><circle cx="549.78" cy="636.5" r="7.3" fill="rgba(66,5,244,0.62)"/><circle cx="513.28" cy="640.88" r="7.3" fill="rgba(66,5,244,0.62)"/><circle cx="527.15" cy="639.42" r="7.3" fill="rgba(66,5,244,0.62)"/><circle cx="556.35" cy="648.18" r="4.38" fill="rgba(66,5,244,0.62)"/><circle cx="557.08" cy="662.77" r="3.21" fill="rgba(66,5,244,0.62)"/><circle cx="476.06" cy="675.91" r="6.57" fill="rgba(66,5,244,0.62)"/><circle cx="484.82" cy="677.37" r="5.84" fill="rgba(66,5,244,0.62)"/><circle cx="549.05" cy="674.45" r="6.57" fill="rgba(66,5,244,0.62)"/><circle cx="524.23" cy="672.99" r="6.57" fill="rgba(66,5,244,0.62)"/><circle cx="447.99" cy="648.76" r="7.3" fill="rgba(66,5,244,0.62)"/><circle cx="454.56" cy="653.14" r="7.3" fill="rgba(66,5,244,0.62)"/><circle cx="424.64" cy="680.15" r="8.03" fill="rgba(66,5,244,0.62)"/><circle cx="406.39" cy="706.42" r="7.3" fill="rgba(66,5,244,0.62)"/><circle cx="394.71" cy="715.91" r="7.59" fill="rgba(66,5,244,0.62)"/><circle cx="452.37" cy="696.93" r="7.3" fill="rgba(66,5,244,0.62)"/><circle cx="459.67" cy="682.34" r="6.57" fill="rgba(66,5,244,0.62)"/><circle cx="445.07" cy="714.45" r="5.11" fill="rgba(66,5,244,0.62)"/><circle cx="542.92" cy="590" r="7.3" fill="rgba(66,5,244,0.62)"/><circle cx="574.31" cy="614.09" r="8.03" fill="rgba(66,5,244,0.62)"/><circle cx="630.51" cy="625.04" r="7.01" fill="rgba(66,5,244,0.62)"/><circle cx="630.51" cy="629.42" r="7.01" fill="rgba(66,5,244,0.62)"/><circle cx="612.99" cy="641.09" r="7.3" fill="rgba(66,5,244,0.62)"/><circle cx="594.74" cy="638.18" r="7.3" fill="rgba(66,5,244,0.62)"/><circle cx="595.47" cy="649.12" r="7.59" fill="rgba(66,5,244,0.62)"/><circle cx="576.5" cy="633.8" r="6.57" fill="rgba(66,5,244,0.62)"/><circle cx="567.74" cy="654.23" r="6.57" fill="rgba(66,5,244,0.62)"/><circle cx="570.66" cy="658.61" r="6.57" fill="rgba(66,5,244,0.62)"/><circle cx="576.5" cy="652.77" r="4.38" fill="rgba(66,5,244,0.62)"/><circle cx="431.2" cy="621.61" r="7.01" fill="rgba(66,5,244,0.62)"/><circle cx="449.45" cy="623.5" r="7.3" fill="rgba(66,5,244,0.62)"/><circle cx="509.49" cy="556.97" r="7.01" fill="rgba(66,5,244,0.62)"/><circle cx="440.69" cy="758.39" r="7.01" fill="rgba(66,5,244,0.62)"/><circle cx="449.45" cy="710.95" r="6.57" fill="rgba(66,5,244,0.62)"/><circle cx="452.37" cy="700.73" r="5.84" fill="rgba(66,5,244,0.62)"/><circle cx="443.61" cy="737.96" r="5.11" fill="rgba(66,5,244,0.62)"/><circle cx="474.27" cy="743.8" r="5.84" fill="rgba(66,5,244,0.62)"/><circle cx="496.5" cy="688.25" r="6.57" fill="rgba(66,5,244,0.62)"/><circle cx="505.26" cy="700.66" r="6.57" fill="rgba(66,5,244,0.62)"/><circle cx="514.01" cy="697.74" r="7.3" fill="rgba(66,5,244,0.62)"/><circle cx="522.04" cy="707.96" r="8.03" fill="rgba(66,5,244,0.62)"/><circle cx="540.29" cy="688.25" r="6.57" fill="rgba(66,5,244,0.62)"/><circle cx="557.08" cy="675.84" r="5.84" fill="rgba(66,5,244,0.62)"/><circle cx="486.28" cy="713.8" r="6.57" fill="rgba(66,5,244,0.62)"/><circle cx="439.16" cy="718.84" r="7.77" fill="rgba(146,168,172,0.55)"/><circle cx="412.5" cy="722.47" r="7.23" fill="rgba(146,168,172,0.55)"/><circle cx="420.67" cy="723.89" r="7.13" fill="rgba(146,168,172,0.55)"/><circle cx="428.42" cy="723.7" r="7.91" fill="rgba(146,168,172,0.55)"/><circle cx="437.58" cy="725.46" r="8.35" fill="rgba(146,168,172,0.55)"/><circle cx="444.48" cy="725.6" r="8.11" fill="rgba(146,168,172,0.55)"/><circle cx="451.2" cy="724.33" r="6.95" fill="rgba(146,168,172,0.55)"/><circle cx="460.37" cy="724.12" r="6.81" fill="rgba(146,168,172,0.55)"/><circle cx="392.52" cy="732.36" r="7.96" fill="rgba(146,168,172,0.55)"/><circle cx="397.79" cy="729.7" r="7.19" fill="rgba(146,168,172,0.55)"/><circle cx="405.73" cy="731.22" r="6.93" fill="rgba(146,168,172,0.55)"/><circle cx="414.75" cy="732.86" r="7.54" fill="rgba(146,168,172,0.55)"/><circle cx="423.67" cy="732.44" r="7.44" fill="rgba(146,168,172,0.55)"/><circle cx="431.65" cy="732.25" r="7.51" fill="rgba(146,168,172,0.55)"/><circle cx="440.96" cy="729.19" r="7.35" fill="rgba(146,168,172,0.55)"/><circle cx="449.18" cy="731.23" r="7.28" fill="rgba(146,168,172,0.55)"/><circle cx="456.52" cy="732.86" r="6.94" fill="rgba(146,168,172,0.55)"/><circle cx="463.64" cy="729.35" r="7.3" fill="rgba(146,168,172,0.55)"/><circle cx="388.05" cy="740.09" r="7.6" fill="rgba(146,168,172,0.55)"/><circle cx="394.26" cy="739.85" r="7.92" fill="rgba(146,168,172,0.55)"/><circle cx="401.61" cy="738.23" r="7.66" fill="rgba(146,168,172,0.55)"/><circle cx="410.59" cy="736.36" r="8.12" fill="rgba(146,168,172,0.55)"/><circle cx="419.24" cy="737.77" r="7.65" fill="rgba(146,168,172,0.55)"/><circle cx="429.36" cy="738.18" r="6.98" fill="rgba(146,168,172,0.55)"/><circle cx="437.7" cy="739.1" r="7.62" fill="rgba(146,168,172,0.55)"/><circle cx="442.99" cy="738.49" r="7.28" fill="rgba(146,168,172,0.55)"/><circle cx="452.64" cy="738.12" r="7.86" fill="rgba(146,168,172,0.55)"/><circle cx="459.89" cy="739.38" r="7.72" fill="rgba(146,168,172,0.55)"/><circle cx="470.94" cy="737.25" r="6.88" fill="rgba(146,168,172,0.55)"/><circle cx="389.66" cy="744.46" r="6.8" fill="rgba(146,168,172,0.55)"/><circle cx="398.53" cy="747.05" r="7.87" fill="rgba(146,168,172,0.55)"/><circle cx="409.46" cy="745.3" r="8.23" fill="rgba(146,168,172,0.55)"/><circle cx="415.9" cy="745.33" r="8.3" fill="rgba(146,168,172,0.55)"/><circle cx="423.34" cy="744.14" r="8.05" fill="rgba(146,168,172,0.55)"/><circle cx="431.35" cy="746.05" r="8.31" fill="rgba(146,168,172,0.55)"/><circle cx="441.66" cy="747.16" r="6.86" fill="rgba(146,168,172,0.55)"/><circle cx="446.72" cy="744.14" r="7.03" fill="rgba(146,168,172,0.55)"/><circle cx="457.62" cy="745.12" r="7.6" fill="rgba(146,168,172,0.55)"/><circle cx="386.65" cy="750.69" r="8.23" fill="rgba(146,168,172,0.55)"/><circle cx="394.74" cy="752.95" r="7.4" fill="rgba(146,168,172,0.55)"/><circle cx="403.88" cy="752.15" r="7.57" fill="rgba(146,168,172,0.55)"/><circle cx="410.69" cy="752.96" r="7.68" fill="rgba(146,168,172,0.55)"/><circle cx="421.35" cy="753.62" r="8.37" fill="rgba(146,168,172,0.55)"/><circle cx="428.76" cy="752.59" r="8.09" fill="rgba(146,168,172,0.55)"/><circle cx="435.5" cy="753.13" r="7.7" fill="rgba(146,168,172,0.55)"/><circle cx="444.92" cy="752.57" r="6.86" fill="rgba(146,168,172,0.55)"/><circle cx="400.04" cy="760.77" r="8.22" fill="rgba(146,168,172,0.55)"/><circle cx="407.32" cy="759.45" r="7.14" fill="rgba(146,168,172,0.55)"/><circle cx="416.32" cy="760.61" r="8.11" fill="rgba(146,168,172,0.55)"/><circle cx="424.62" cy="757.68" r="8.39" fill="rgba(146,168,172,0.55)"/><circle cx="432.28" cy="757.57" r="7.39" fill="rgba(146,168,172,0.55)"/><circle cx="429.74" cy="767.68" r="7.4" fill="rgba(146,168,172,0.55)"/><circle cx="454.51" cy="672.36" r="7.1" fill="rgba(146,168,172,0.55)"/><circle cx="485.07" cy="671.89" r="7.32" fill="rgba(146,168,172,0.55)"/><circle cx="502.9" cy="670.9" r="6.06" fill="rgba(146,168,172,0.55)"/><circle cx="450.35" cy="677.99" r="6.88" fill="rgba(146,168,172,0.55)"/><circle cx="522.04" cy="678.13" r="7" fill="rgba(146,168,172,0.55)"/><circle cx="458.64" cy="690.98" r="7.21" fill="rgba(146,168,172,0.55)"/><circle cx="430.56" cy="699.44" r="5.88" fill="rgba(146,168,172,0.55)"/><circle cx="454.52" cy="698.79" r="7.1" fill="rgba(146,168,172,0.55)"/><circle cx="456.23" cy="703.5" r="7.37" fill="rgba(146,168,172,0.55)"/><circle cx="438.66" cy="713.75" r="7.29" fill="rgba(146,168,172,0.55)"/><circle cx="433.52" cy="717.8" r="7.3" fill="rgba(146,168,172,0.55)"/><circle cx="470.25" cy="727.31" r="6.93" fill="rgba(146,168,172,0.55)"/><circle cx="441.94" cy="732.22" r="6.86" fill="rgba(146,168,172,0.55)"/><circle cx="412.03" cy="739.89" r="6.82" fill="rgba(146,168,172,0.55)"/><circle cx="422.01" cy="680.93" r="7.59" fill="rgba(146,168,172,0.55)"/><circle cx="403.76" cy="696.69" r="7.59" fill="rgba(146,168,172,0.55)"/><circle cx="413.25" cy="701.66" r="7.59" fill="rgba(146,168,172,0.55)"/><circle cx="450.91" cy="688.23" r="6.57" fill="rgba(146,168,172,0.55)"/><circle cx="462.59" cy="682.39" r="7.59" fill="rgba(146,168,172,0.55)"/><circle cx="466.97" cy="691.88" r="7.3" fill="rgba(146,168,172,0.55)"/><circle cx="437.77" cy="702.83" r="7.59" fill="rgba(146,168,172,0.55)"/><circle cx="450.91" cy="707.21" r="7.3" fill="rgba(146,168,172,0.55)"/><circle cx="464.05" cy="714.5" r="7.59" fill="rgba(146,168,172,0.55)"/><circle cx="440.69" cy="723.26" r="8.03" fill="rgba(146,168,172,0.55)"/><circle cx="427.55" cy="720.34" r="7.59" fill="rgba(146,168,172,0.55)"/><circle cx="417.34" cy="720.34" r="7.59" fill="rgba(146,168,172,0.55)"/><circle cx="404.2" cy="730.56" r="8.03" fill="rgba(146,168,172,0.55)"/><circle cx="392.52" cy="732.02" r="7.3" fill="rgba(146,168,172,0.55)"/><circle cx="386.68" cy="739.32" r="7.3" fill="rgba(146,168,172,0.55)"/><circle cx="423.18" cy="732.02" r="7.59" fill="rgba(146,168,172,0.55)"/><circle cx="437.77" cy="736.4" r="7.59" fill="rgba(146,168,172,0.55)"/><circle cx="459.67" cy="733.48" r="7.59" fill="rgba(146,168,172,0.55)"/><circle cx="456.75" cy="721.8" r="7.59" fill="rgba(146,168,172,0.55)"/><circle cx="471.35" cy="729.1" r="7.59" fill="rgba(146,168,172,0.55)"/><circle cx="468.43" cy="739.32" r="7.59" fill="rgba(146,168,172,0.55)"/><circle cx="411.5" cy="739.32" r="7.59" fill="rgba(146,168,172,0.55)"/><circle cx="549.56" cy="688.23" r="7.59" fill="rgba(146,168,172,0.55)"/><circle cx="537.15" cy="669.98" r="7.59" fill="rgba(146,168,172,0.55)"/><circle cx="518.18" cy="667.79" r="7.59" fill="rgba(146,168,172,0.55)"/><circle cx="494.82" cy="670.71" r="8.03" fill="rgba(146,168,172,0.55)"/><circle cx="503.58" cy="678.01" r="6.57" fill="rgba(146,168,172,0.55)"/><circle cx="486.06" cy="690.42" r="7.3" fill="rgba(146,168,172,0.55)"/><circle cx="503.58" cy="704.29" r="8.03" fill="rgba(146,168,172,0.55)"/><circle cx="491.9" cy="715.96" r="7.3" fill="rgba(146,168,172,0.55)"/><circle cx="486.06" cy="724.72" r="8.03" fill="rgba(146,168,172,0.55)"/><circle cx="475.84" cy="713.04" r="8.03" fill="rgba(146,168,172,0.55)"/><circle cx="474.38" cy="739.32" r="7.3" fill="rgba(146,168,172,0.55)"/><circle cx="470" cy="691.15" r="6.57" fill="rgba(146,168,172,0.55)"/><circle cx="529.85" cy="664.87" r="5.84" fill="rgba(146,168,172,0.55)"/><circle cx="522.26" cy="614.98" r="6.13" fill="rgba(146,168,172,0.55)"/><circle cx="472.19" cy="637.31" r="7.59" fill="rgba(146,168,172,0.55)"/><circle cx="519.64" cy="648.26" r="8.03" fill="rgba(146,168,172,0.55)"/><circle cx="526.93" cy="651.18" r="5.84" fill="rgba(146,168,172,0.55)"/><circle cx="509.42" cy="657.02" r="5.84" fill="rgba(146,168,172,0.55)"/><circle cx="531.31" cy="659.94" r="5.84" fill="rgba(146,168,172,0.55)"/><circle cx="557.59" cy="638.04" r="7.3" fill="rgba(146,168,172,0.55)"/><circle cx="566.35" cy="636.59" r="6.57" fill="rgba(146,168,172,0.55)"/><circle cx="564.89" cy="648.26" r="6.57" fill="rgba(146,168,172,0.55)"/><circle cx="518.18" cy="662.86" r="5.84" fill="rgba(146,168,172,0.55)"/><circle cx="587.96" cy="637.31" r="7.3" fill="rgba(146,168,172,0.55)"/><circle cx="576.28" cy="641.69" r="7.01" fill="rgba(146,168,172,0.55)"/><circle cx="571.9" cy="648.26" r="7.3" fill="rgba(146,168,172,0.55)"/><circle cx="385.22" cy="760.75" r="7.59" fill="rgba(146,168,172,0.55)"/><circle cx="394.71" cy="762.21" r="8.03" fill="rgba(146,168,172,0.55)"/><circle cx="394.71" cy="746.88" r="8.03" fill="rgba(146,168,172,0.55)"/><circle cx="404.2" cy="735.93" r="8.03" fill="rgba(146,168,172,0.55)"/><circle cx="413.69" cy="747.61" r="8.03" fill="rgba(146,168,172,0.55)"/><circle cx="406.39" cy="758.56" r="5.84" fill="rgba(146,168,172,0.55)"/><circle cx="414.42" cy="754.91" r="6.57" fill="rgba(146,168,172,0.55)"/><circle cx="422.45" cy="735.93" r="8.03" fill="rgba(146,168,172,0.55)"/><circle cx="418.8" cy="723.52" r="6.57" fill="rgba(146,168,172,0.55)"/><circle cx="430.47" cy="722.79" r="7.3" fill="rgba(146,168,172,0.55)"/><circle cx="438.5" cy="741.77" r="8.03" fill="rgba(146,168,172,0.55)"/><circle cx="440.69" cy="751.26" r="7.3" fill="rgba(146,168,172,0.55)"/><circle cx="426.09" cy="763.67" r="7.59" fill="rgba(146,168,172,0.55)"/><circle cx="424.64" cy="771.69" r="7.3" fill="rgba(146,168,172,0.55)"/><circle cx="427.55" cy="768.04" r="6.57" fill="rgba(146,168,172,0.55)"/><circle cx="459.67" cy="736.66" r="8.03" fill="rgba(146,168,172,0.55)"/><circle cx="456.02" cy="751.99" r="7.59" fill="rgba(146,168,172,0.55)"/><circle cx="461.13" cy="721.33" r="7.3" fill="rgba(146,168,172,0.55)"/><circle cx="472.08" cy="742.5" r="5.84" fill="rgba(146,168,172,0.55)"/><circle cx="449.45" cy="731.55" r="6.57" fill="rgba(146,168,172,0.55)"/><circle cx="410.04" cy="724.25" r="5.84" fill="rgba(146,168,172,0.55)"/><circle cx="427.55" cy="746.15" r="5.84" fill="rgba(146,168,172,0.55)"/><circle cx="476.79" cy="744.18" r="7.59" fill="rgba(146,168,172,0.55)"/><circle cx="461.46" cy="750.75" r="5.84" fill="rgba(146,168,172,0.55)"/><circle cx="484.09" cy="728.85" r="8.03" fill="rgba(146,168,172,0.55)"/><circle cx="490.66" cy="723.01" r="6.57" fill="rgba(146,168,172,0.55)"/><circle cx="462.92" cy="736.15" r="7.3" fill="rgba(146,168,172,0.55)"/><circle cx="474.6" cy="734.69" r="6.57" fill="rgba(146,168,172,0.55)"/><circle cx="495.04" cy="717.17" r="5.84" fill="rgba(146,168,172,0.55)"/><circle cx="505.26" cy="708.41" r="5.84" fill="rgba(146,168,172,0.55)"/><circle cx="501.75" cy="673.23" r="6.57" fill="rgba(146,168,172,0.55)"/><circle cx="465.26" cy="711.18" r="7.3" fill="rgba(146,168,172,0.55)"/><circle cx="513.43" cy="665.93" r="8.03" fill="rgba(146,168,172,0.55)"/><circle cx="427.3" cy="717.02" r="6.57" fill="rgba(146,168,172,0.55)"/><circle cx="441.9" cy="719.94" r="6.57" fill="rgba(146,168,172,0.55)"/><circle cx="513.58" cy="656.15" r="8.03" fill="rgba(146,168,172,0.55)"/><circle cx="503.36" cy="699.94" r="7.3" fill="rgba(146,168,172,0.55)"/><circle cx="489.2" cy="681.85" r="7.3" fill="rgba(146,168,172,0.55)"/><circle cx="479" cy="692.05" r="7.3" fill="rgba(146,168,172,0.55)"/><circle cx="465.8" cy="699.35" r="7" fill="rgba(146,168,172,0.55)"/></g>
<path d="M658.5,575 L658.5,575 L658.57,576.89 L658.66,579.38 L658.76,582.32 L658.88,585.62 L659.02,589.16 L659.16,592.81 L659.33,596.46 L659.5,600 L659.69,603.44 L659.91,606.91 L660.15,610.44 L660.39,614.06 L660.65,617.8 L660.9,621.68 L661.16,625.74 L661.4,630 L661.64,634.64 L661.9,639.72 L662.15,645.06 L662.41,650.5 L662.65,655.88 L662.89,661.03 L663.11,665.79 L663.3,670 L663.46,673.62 L663.6,676.81 L663.72,679.66 L663.83,682.25 L663.93,684.69 L664.04,687.06 L664.16,689.47 L664.3,692 L664.42,694.67 L664.49,697.4 L664.54,700.13 L664.61,702.81 L664.73,705.39 L664.95,707.82 L665.29,710.04 L665.8,712 L666.51,713.65 L667.4,715.02 L668.42,716.18 L669.53,717.19 L670.68,718.11 L671.83,719.01 L672.91,719.95 L673.9,721 L674.82,722.14 L675.75,723.3 L676.66,724.46 L677.54,725.62 L678.38,726.77 L679.17,727.89 L679.88,728.97 L680.5,730 L681.06,730.92 L681.6,731.7 L682.08,732.42 L682.49,733.12 L682.81,733.88 L683.04,734.73 L683.14,735.76 L683.1,737 L682.92,738.53 L682.6,740.3 L682.16,742.26 L681.61,744.31 L680.98,746.39 L680.27,748.41 L679.51,750.31 L678.7,752 L677.8,753.5 L676.77,754.9 L675.66,756.2 L674.48,757.44 L673.28,758.62 L672.1,759.76 L670.96,760.88 L669.9,762 L668.89,763.12 L667.89,764.21 L666.91,765.28 L665.96,766.31 L665.04,767.31 L664.16,768.26 L663.35,769.16 L662.6,770 L661.91,770.8 L661.25,771.58 L660.65,772.31 L660.09,773 L659.6,773.62 L659.16,774.17 L658.79,774.63 L658.5,775 L658.5,775Z" fill="rgba(146,168,172,0.4)" stroke="#fff" stroke-width="0.8"/>
<path d="M658.5,560 L658.5,560 L658.53,561.16 L658.56,562.72 L658.6,564.57 L658.65,566.62 L658.7,568.79 L658.76,570.97 L658.83,573.07 L658.9,575 L658.97,576.79 L659.02,578.55 L659.08,580.28 L659.14,582 L659.23,583.72 L659.34,585.45 L659.5,587.21 L659.7,589 L659.95,590.83 L660.24,592.68 L660.57,594.55 L660.92,596.44 L661.31,598.33 L661.72,600.23 L662.15,602.12 L662.6,604 L663.08,605.88 L663.6,607.77 L664.15,609.67 L664.73,611.56 L665.31,613.45 L665.89,615.32 L666.45,617.17 L667,619 L667.55,620.83 L668.13,622.69 L668.71,624.54 L669.28,626.38 L669.82,628.16 L670.32,629.88 L670.75,631.5 L671.1,633 L671.36,634.34 L671.56,635.51 L671.7,636.57 L671.78,637.56 L671.83,638.55 L671.84,639.59 L671.83,640.72 L671.8,642 L671.75,643.42 L671.65,644.92 L671.52,646.49 L671.36,648.12 L671.18,649.8 L670.99,651.52 L670.8,653.25 L670.6,655 L670.4,656.73 L670.19,658.45 L669.96,660.17 L669.73,661.94 L669.48,663.77 L669.23,665.71 L668.97,667.78 L668.7,670 L668.42,672.44 L668.13,675.08 L667.83,677.87 L667.52,680.75 L667.21,683.66 L666.9,686.55 L666.6,689.35 L666.3,692 L666.01,694.48 L665.71,696.82 L665.42,699.08 L665.13,701.31 L664.84,703.57 L664.56,705.9 L664.28,708.36 L664,711 L663.73,713.84 L663.46,716.83 L663.2,719.94 L662.94,723.12 L662.69,726.36 L662.43,729.61 L662.17,732.83 L661.9,736 L661.62,739.21 L661.33,742.55 L661.04,745.95 L660.74,749.31 L660.46,752.58 L660.18,755.66 L659.93,758.5 L659.7,761 L659.49,763.2 L659.3,765.2 L659.12,766.98 L658.96,768.56 L658.82,769.95 L658.69,771.15 L658.59,772.16 L658.5,773 L658.5,773Z" fill="rgba(66,5,244,0.48)" stroke="#fff" stroke-width="0.8"/>
</svg>
</body></html>
